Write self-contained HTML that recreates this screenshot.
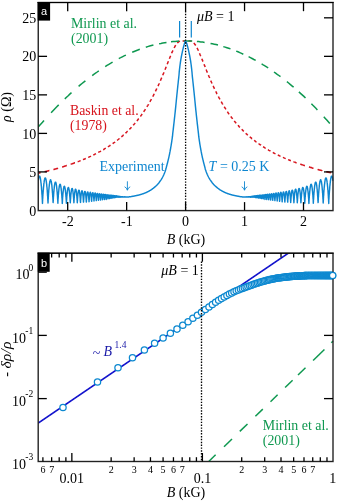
<!DOCTYPE html>
<html><head><meta charset="utf-8"><title>fig</title>
<style>html,body{margin:0;padding:0;background:#fff;}svg{display:block;will-change:transform;}text{font-family:"Liberation Serif",serif;}</style>
</head><body>
<svg width="338" height="503" viewBox="0 0 338 503">
<rect x="0" y="0" width="338" height="503" fill="#fff"/>
<defs><filter id="bl" x="0" y="0" width="338" height="503" filterUnits="userSpaceOnUse"><feGaussianBlur stdDeviation="0.33"/></filter><clipPath id="c1"><rect x="38.25" y="2.50" width="295.35" height="208.10"/></clipPath>
<clipPath id="c2"><rect x="38.20" y="253.20" width="299.80" height="208.30"/></clipPath></defs><g filter="url(#bl)">
<g clip-path="url(#c1)">
<path d="M38.2 173.2 38.8 173.1 39.4 173.0 40.0 172.8 40.6 172.7 40.6 172.7 M44.7 171.7 45.1 171.6 45.7 171.5 46.3 171.3 46.9 171.2 47.5 171.0 48.0 170.9 48.6 170.7 49.2 170.6 49.4 170.6 M53.4 169.5 53.9 169.4 54.5 169.2 55.1 169.0 55.7 168.9 56.3 168.7 56.9 168.5 57.5 168.4 58.1 168.2 58.1 168.2 M62.1 167.0 62.6 166.9 63.2 166.7 63.8 166.5 64.4 166.3 64.9 166.1 65.5 166.0 66.1 165.8 66.7 165.6 66.8 165.6 M70.7 164.2 71.2 164.1 71.8 163.9 72.4 163.7 73.0 163.5 73.6 163.3 74.2 163.0 74.8 162.8 75.0 162.8 M77.7 161.7 78.1 161.6 78.7 161.4 79.3 161.1 79.9 160.9 80.5 160.7 80.6 160.6 M83.0 159.7 83.4 159.5 84.0 159.2 84.6 159.0 85.2 158.7 85.8 158.5 85.8 158.5 M88.2 157.4 88.7 157.2 89.3 156.9 89.9 156.6 90.5 156.4 91.0 156.1 91.0 156.1 M93.3 155.0 93.8 154.8 94.4 154.5 95.0 154.2 95.6 153.9 96.0 153.7 96.0 153.7 M98.3 152.5 98.7 152.2 99.3 151.9 99.9 151.6 100.5 151.3 101.0 151.0 101.0 151.0 M103.2 149.7 103.7 149.5 104.2 149.1 104.8 148.7 105.4 148.4 105.8 148.2 M108.0 146.8 108.4 146.5 109.0 146.2 109.6 145.8 110.1 145.4 110.5 145.1 M112.6 143.7 113.1 143.3 113.7 142.9 114.3 142.5 114.9 142.1 115.0 141.9 M117.0 140.4 117.6 140.0 118.2 139.5 118.8 139.0 119.4 138.6 119.4 138.5 M121.3 136.9 121.7 136.6 122.3 136.1 122.9 135.6 123.5 135.0 123.6 135.0 M125.5 133.3 125.9 132.9 126.5 132.3 127.0 131.7 127.6 131.2 127.6 131.2 M129.4 129.4 130.0 128.8 130.6 128.2 131.2 127.6 131.5 127.2 M133.2 125.3 133.7 124.7 134.3 124.1 134.9 123.4 135.2 123.0 M136.9 121.0 137.5 120.3 138.0 119.5 138.6 118.8 138.8 118.6 M140.4 116.5 140.8 115.9 141.4 115.1 142.0 114.3 142.2 114.0 M143.7 111.8 144.1 111.1 144.7 110.3 145.3 109.4 145.4 109.2 M146.9 106.9 147.3 106.2 147.9 105.3 148.5 104.3 148.5 104.2 M149.9 101.8 150.4 100.9 151.0 99.9 151.5 99.1 151.5 99.1 M152.7 96.7 153.2 95.8 153.8 94.7 154.2 93.8 154.2 93.8 M155.4 91.4 155.9 90.4 156.5 89.2 156.8 88.5 M158.0 86.1 158.5 85.0 159.1 83.7 159.3 83.2 M160.4 80.7 160.8 79.7 161.4 78.3 161.7 77.7 M162.7 75.2 163.2 74.1 163.8 72.7 163.9 72.3 M165.0 69.8 165.4 68.8 166.0 67.3 166.2 66.8 M167.2 64.3 167.7 62.9 168.3 61.4 168.3 61.3 M169.4 58.8 169.9 57.5 170.5 56.1 170.6 55.8 M171.6 53.3 172.0 52.4 172.6 51.1 172.9 50.4 M174.1 48.0 174.6 47.1 175.2 46.0 175.7 45.2 175.7 45.2 M177.3 43.0 177.7 42.6 178.3 42.1 178.9 41.7 179.5 41.4 179.9 41.2 M182.6 40.9 183.0 40.9 183.6 40.9 184.2 40.9 184.8 40.9 185.4 40.9 185.8 40.9 M188.5 40.9 188.9 40.9 189.5 41.0 190.1 41.0 190.7 41.1 191.3 41.2 191.6 41.3 M193.8 42.9 194.2 43.4 194.8 44.2 195.4 45.0 195.7 45.5 M197.0 47.9 197.6 49.0 198.2 50.2 198.4 50.7 M199.5 53.2 199.9 54.2 200.5 55.6 200.8 56.2 M201.8 58.7 202.3 59.9 202.9 61.4 203.0 61.6 M204.0 64.2 204.5 65.4 205.1 66.8 205.2 67.1 M206.2 69.6 206.6 70.7 207.2 72.2 207.4 72.6 M208.4 75.1 209.0 76.5 209.6 77.8 209.7 78.1 M210.7 80.6 211.1 81.5 211.7 82.8 212.0 83.5 M213.2 85.9 213.7 87.1 214.3 88.4 214.5 88.8 M215.7 91.3 216.3 92.4 216.8 93.6 217.1 94.1 M218.4 96.5 218.8 97.3 219.4 98.4 219.9 99.4 219.9 99.4 M221.2 101.7 221.8 102.6 222.3 103.6 222.8 104.5 222.8 104.5 M224.2 106.8 224.7 107.5 225.3 108.4 225.9 109.4 225.9 109.4 M227.4 111.7 227.8 112.3 228.4 113.2 229.0 114.0 229.2 114.2 M230.7 116.4 231.2 117.0 231.8 117.8 232.4 118.5 232.6 118.8 M234.2 120.9 234.7 121.5 235.3 122.2 235.9 122.9 236.2 123.2 M237.9 125.2 238.5 125.8 239.0 126.5 239.6 127.1 239.9 127.4 M241.7 129.3 242.2 129.8 242.8 130.4 243.4 131.0 243.8 131.4 243.8 131.4 M245.7 133.2 246.1 133.6 246.7 134.1 247.3 134.7 247.8 135.2 247.8 135.2 M249.8 136.8 250.2 137.2 250.8 137.7 251.4 138.2 252.0 138.7 252.1 138.7 M254.1 140.3 254.6 140.7 255.2 141.2 255.8 141.6 256.3 142.1 256.4 142.1 M258.5 143.6 259.1 144.0 259.7 144.4 260.3 144.8 260.9 145.2 261.0 145.3 M263.1 146.7 263.6 147.0 264.2 147.4 264.8 147.8 265.4 148.1 265.7 148.3 M267.9 149.7 268.3 149.9 268.9 150.3 269.5 150.6 270.1 150.9 270.5 151.2 270.5 151.2 M272.8 152.4 273.2 152.6 273.8 153.0 274.4 153.3 275.0 153.6 275.5 153.8 275.5 153.8 M277.8 155.0 278.3 155.2 278.9 155.5 279.5 155.8 280.1 156.1 280.5 156.3 280.5 156.3 M282.9 157.4 283.5 157.6 284.0 157.9 284.6 158.1 285.2 158.4 285.7 158.6 285.7 158.6 M288.1 159.6 288.6 159.8 289.2 160.0 289.7 160.3 290.3 160.5 290.9 160.7 290.9 160.7 M293.4 161.7 293.9 161.9 294.5 162.1 295.1 162.3 295.6 162.5 296.2 162.8 296.6 162.9 296.6 162.9 M300.2 164.2 300.7 164.3 301.3 164.5 301.9 164.7 302.5 164.9 303.1 165.1 303.7 165.3 304.3 165.5 304.9 165.7 304.9 165.7 M308.9 167.0 309.4 167.1 310.0 167.3 310.6 167.5 311.2 167.6 311.8 167.8 312.3 168.0 312.9 168.2 313.5 168.3 313.5 168.3 M317.6 169.4 318.0 169.6 318.6 169.7 319.2 169.9 319.8 170.0 320.4 170.2 321.0 170.3 321.6 170.5 322.2 170.6 322.3 170.7 M326.3 171.7 326.9 171.8 327.5 172.0 328.1 172.1 328.7 172.2 329.2 172.4 329.8 172.5 330.4 172.6 331.0 172.8 331.1 172.8" fill="none" stroke="#d7141e" stroke-width="1.5"/>
<path d="M37.8 127.6 39.3 125.8 40.9 124.0 42.5 122.3 44.0 120.5 M51.1 112.7 53.0 110.7 54.9 108.7 56.8 106.8 58.7 104.9 M64.8 98.9 66.5 97.3 68.2 95.7 69.8 94.1 71.5 92.6 M78.6 86.4 80.3 84.9 82.0 83.5 83.7 82.2 85.4 80.8 M92.2 75.6 93.8 74.3 95.5 73.2 97.2 72.0 98.8 70.8 M105.2 66.6 107.0 65.4 108.9 64.3 110.8 63.2 112.6 62.1 M118.8 58.6 120.6 57.7 122.3 56.8 124.1 55.9 125.9 55.1 M132.2 52.3 134.1 51.5 136.0 50.7 137.9 50.0 139.8 49.3 M145.8 47.2 147.7 46.6 149.6 46.1 151.5 45.6 153.4 45.1 M159.1 43.7 160.9 43.4 162.8 43.0 164.7 42.7 166.5 42.4 M171.0 41.8 173.1 41.6 175.1 41.4 177.1 41.2 179.2 41.1 M183.8 41.0 185.9 40.9 188.0 41.0 190.1 41.0 192.2 41.1 M196.9 41.4 198.8 41.6 200.8 41.9 202.7 42.1 204.6 42.4 M210.5 43.4 212.4 43.8 214.2 44.2 216.1 44.6 218.0 45.1 M223.3 46.6 225.1 47.1 226.9 47.7 228.7 48.3 230.5 48.9 M236.2 51.1 238.0 51.8 239.8 52.6 241.5 53.4 243.3 54.2 M248.6 56.7 250.4 57.6 252.1 58.5 253.9 59.5 255.7 60.4 M261.6 63.9 263.2 64.9 264.9 65.9 266.6 66.9 268.2 68.0 M274.0 72.0 275.6 73.1 277.2 74.3 278.9 75.5 280.5 76.7 M286.9 81.7 288.6 83.0 290.2 84.4 291.9 85.8 293.6 87.2 M298.9 91.9 300.5 93.4 302.2 94.9 303.9 96.4 305.5 98.0 M311.4 103.7 312.9 105.3 314.4 106.8 315.9 108.3 317.4 109.9 M323.8 116.7 325.3 118.4 326.8 120.1 328.3 121.8 329.8 123.5" fill="none" stroke="#0f9850" stroke-width="1.5"/>
<path d="M38.2 180.8 38.3 180.4 38.3 180.0 38.4 179.6 38.5 179.2 38.5 178.9 38.6 178.6 38.6 178.3 38.7 178.0 38.8 177.7 38.8 177.5 38.9 177.2 38.9 177.0 39.0 176.8 39.1 176.7 39.1 176.5 39.2 176.4 39.2 176.3 39.3 176.2 39.3 176.2 39.4 176.1 39.5 176.1 39.5 176.1 39.6 176.1 39.6 176.2 39.7 176.2 39.8 176.3 39.8 176.4 39.9 176.6 39.9 176.7 40.0 176.9 40.1 177.1 40.1 177.3 40.2 177.5 40.2 177.8 40.3 178.0 40.3 178.3 40.4 178.6 40.5 179.0 40.5 179.3 40.6 179.7 40.6 180.1 40.7 180.5 40.8 180.9 40.8 181.4 40.9 181.9 40.9 182.4 41.0 182.9 41.1 183.4 41.1 184.0 41.2 184.5 41.2 185.1 41.3 185.7 41.4 186.4 41.4 187.0 41.5 187.7 41.5 188.3 41.6 189.1 41.6 189.8 41.7 190.5 41.8 191.3 41.8 192.1 41.9 192.9 41.9 193.7 42.0 194.6 42.1 195.5 42.1 196.4 42.2 197.3 42.2 198.3 42.3 199.4 42.4 200.5 42.4 201.8 42.5 203.4 42.5 201.9 42.6 200.6 42.6 199.5 42.7 198.4 42.8 197.4 42.8 196.5 42.9 195.6 42.9 194.7 43.0 193.8 43.1 193.0 43.1 192.2 43.2 191.4 43.2 190.7 43.3 190.0 43.4 189.3 43.4 188.6 43.5 187.9 43.5 187.3 43.6 186.6 43.7 186.0 43.7 185.5 43.8 184.9 43.8 184.4 43.9 183.8 43.9 183.3 44.0 182.9 44.1 182.4 44.1 182.0 44.2 181.6 44.2 181.2 44.3 180.8 44.4 180.4 44.4 180.1 44.5 179.8 44.5 179.5 44.6 179.3 44.7 179.0 44.7 178.8 44.8 178.6 44.8 178.4 44.9 178.3 44.9 178.2 45.0 178.1 45.1 178.0 45.1 177.9 45.2 177.9 45.2 177.9 45.3 177.9 45.4 177.9 45.4 178.0 45.5 178.1 45.5 178.2 45.6 178.3 45.7 178.5 45.7 178.6 45.8 178.8 45.8 179.0 45.9 179.3 46.0 179.6 46.0 179.8 46.1 180.1 46.1 180.5 46.2 180.8 46.2 181.2 46.3 181.6 46.4 182.0 46.4 182.5 46.5 182.9 46.5 183.4 46.6 183.9 46.7 184.4 46.7 185.0 46.8 185.6 46.8 186.1 46.9 186.8 47.0 187.4 47.0 188.0 47.1 188.7 47.1 189.4 47.2 190.1 47.3 190.9 47.3 191.6 47.4 192.4 47.4 193.2 47.5 194.0 47.5 194.9 47.6 195.8 47.7 196.7 47.7 197.6 47.8 198.6 47.8 199.7 47.9 200.9 48.0 202.1 48.0 203.0 48.1 201.5 48.1 200.3 48.2 199.2 48.3 198.2 48.3 197.2 48.4 196.3 48.4 195.4 48.5 194.5 48.5 193.7 48.6 192.9 48.7 192.1 48.7 191.4 48.8 190.7 48.8 190.0 48.9 189.3 49.0 188.7 49.0 188.0 49.1 187.4 49.1 186.8 49.2 186.3 49.3 185.7 49.3 185.2 49.4 184.7 49.4 184.2 49.5 183.8 49.6 183.4 49.6 183.0 49.7 182.6 49.7 182.2 49.8 181.9 49.8 181.6 49.9 181.3 50.0 181.1 50.0 180.8 50.1 180.6 50.1 180.4 50.2 180.3 50.3 180.1 50.3 180.0 50.4 179.9 50.4 179.9 50.5 179.8 50.6 179.8 50.6 179.8 50.7 179.9 50.7 179.9 50.8 180.0 50.8 180.1 50.9 180.3 51.0 180.4 51.0 180.6 51.1 180.8 51.1 181.1 51.2 181.3 51.3 181.6 51.3 181.9 51.4 182.2 51.4 182.6 51.5 183.0 51.6 183.4 51.6 183.8 51.7 184.2 51.7 184.7 51.8 185.2 51.9 185.7 51.9 186.3 52.0 186.8 52.0 187.4 52.1 188.0 52.1 188.6 52.2 189.3 52.3 190.0 52.3 190.6 52.4 191.4 52.4 192.1 52.5 192.9 52.6 193.7 52.6 194.5 52.7 195.3 52.7 196.2 52.8 197.1 52.9 198.0 52.9 199.0 53.0 200.1 53.0 201.2 53.1 202.5 53.1 202.6 53.2 201.2 53.3 200.1 53.3 199.1 53.4 198.1 53.4 197.2 53.5 196.3 53.6 195.4 53.6 194.6 53.7 193.8 53.7 193.1 53.8 192.3 53.9 191.6 53.9 191.0 54.0 190.3 54.0 189.7 54.1 189.1 54.2 188.5 54.2 188.0 54.3 187.4 54.3 186.9 54.4 186.4 54.4 186.0 54.5 185.5 54.6 185.1 54.6 184.8 54.7 184.4 54.7 184.1 54.8 183.8 54.9 183.5 54.9 183.2 55.0 183.0 55.0 182.8 55.1 182.6 55.2 182.4 55.2 182.3 55.3 182.2 55.3 182.1 55.4 182.1 55.4 182.1 55.5 182.1 55.6 182.1 55.6 182.1 55.7 182.2 55.7 182.3 55.8 182.5 55.9 182.6 55.9 182.8 56.0 183.0 56.0 183.2 56.1 183.5 56.2 183.8 56.2 184.1 56.3 184.4 56.3 184.8 56.4 185.2 56.5 185.6 56.5 186.0 56.6 186.5 56.6 186.9 56.7 187.4 56.7 188.0 56.8 188.5 56.9 189.1 56.9 189.7 57.0 190.3 57.0 190.9 57.1 191.6 57.2 192.3 57.2 193.0 57.3 193.7 57.3 194.5 57.4 195.2 57.5 196.1 57.5 196.9 57.6 197.8 57.6 198.7 57.7 199.6 57.8 200.7 57.8 201.8 57.9 203.3 57.9 201.9 58.0 200.8 58.0 199.8 58.1 198.8 58.2 197.9 58.2 197.1 58.3 196.2 58.3 195.5 58.4 194.7 58.5 194.0 58.5 193.3 58.6 192.6 58.6 192.0 58.7 191.4 58.8 190.8 58.8 190.2 58.9 189.7 58.9 189.2 59.0 188.7 59.0 188.2 59.1 187.8 59.2 187.4 59.2 187.0 59.3 186.6 59.3 186.3 59.4 186.0 59.5 185.7 59.5 185.4 59.6 185.2 59.6 185.0 59.7 184.8 59.8 184.7 59.8 184.5 59.9 184.4 59.9 184.4 60.0 184.3 60.1 184.3 60.1 184.3 60.2 184.4 60.2 184.4 60.3 184.5 60.3 184.6 60.4 184.8 60.5 185.0 60.5 185.1 60.6 185.4 60.6 185.6 60.7 185.9 60.8 186.2 60.8 186.5 60.9 186.9 60.9 187.2 61.0 187.6 61.1 188.1 61.1 188.5 61.2 189.0 61.2 189.5 61.3 190.0 61.3 190.5 61.4 191.1 61.5 191.7 61.5 192.3 61.6 192.9 61.6 193.6 61.7 194.3 61.8 195.0 61.8 195.7 61.9 196.5 61.9 197.3 62.0 198.1 62.1 199.0 62.1 199.9 62.2 200.8 62.2 201.9 62.3 203.4 62.4 201.9 62.4 200.9 62.5 199.9 62.5 199.0 62.6 198.2 62.6 197.4 62.7 196.6 62.8 195.9 62.8 195.2 62.9 194.5 62.9 193.9 63.0 193.3 63.1 192.7 63.1 192.1 63.2 191.6 63.2 191.1 63.3 190.6 63.4 190.1 63.4 189.7 63.5 189.3 63.5 188.9 63.6 188.5 63.6 188.2 63.7 187.9 63.8 187.6 63.8 187.4 63.9 187.1 63.9 187.0 64.0 186.8 64.1 186.6 64.1 186.5 64.2 186.4 64.2 186.4 64.3 186.3 64.4 186.3 64.4 186.3 64.5 186.4 64.5 186.5 64.6 186.6 64.7 186.7 64.7 186.8 64.8 187.0 64.8 187.2 64.9 187.5 64.9 187.7 65.0 188.0 65.1 188.3 65.1 188.7 65.2 189.0 65.2 189.4 65.3 189.8 65.4 190.3 65.4 190.8 65.5 191.2 65.5 191.8 65.6 192.3 65.7 192.9 65.7 193.5 65.8 194.1 65.8 194.7 65.9 195.4 65.9 196.1 66.0 196.8 66.1 197.5 66.1 198.3 66.2 199.1 66.2 200.0 66.3 201.0 66.4 202.0 66.4 203.2 66.5 201.9 66.5 200.9 66.6 199.9 66.7 199.1 66.7 198.3 66.8 197.5 66.8 196.7 66.9 196.0 67.0 195.4 67.0 194.7 67.1 194.1 67.1 193.5 67.2 193.0 67.2 192.4 67.3 191.9 67.4 191.4 67.4 191.0 67.5 190.6 67.5 190.2 67.6 189.8 67.7 189.4 67.7 189.1 67.8 188.8 67.8 188.6 67.9 188.3 68.0 188.1 68.0 187.9 68.1 187.8 68.1 187.7 68.2 187.6 68.3 187.5 68.3 187.5 68.4 187.5 68.4 187.5 68.5 187.5 68.5 187.6 68.6 187.7 68.7 187.9 68.7 188.1 68.8 188.3 68.8 188.5 68.9 188.7 69.0 189.0 69.0 189.3 69.1 189.7 69.1 190.0 69.2 190.4 69.3 190.9 69.3 191.3 69.4 191.8 69.4 192.3 69.5 192.8 69.5 193.4 69.6 193.9 69.7 194.6 69.7 195.2 69.8 195.9 69.8 196.5 69.9 197.3 70.0 198.0 70.0 198.8 70.1 199.6 70.1 200.5 70.2 201.5 70.3 202.7 70.3 202.3 70.4 201.2 70.4 200.3 70.5 199.4 70.6 198.6 70.6 197.8 70.7 197.1 70.7 196.4 70.8 195.7 70.8 195.1 70.9 194.5 71.0 193.9 71.0 193.4 71.1 192.8 71.1 192.4 71.2 191.9 71.3 191.5 71.3 191.0 71.4 190.7 71.4 190.3 71.5 190.0 71.6 189.7 71.6 189.4 71.7 189.2 71.7 189.0 71.8 188.8 71.8 188.7 71.9 188.6 72.0 188.5 72.0 188.5 72.1 188.4 72.1 188.5 72.2 188.5 72.3 188.6 72.3 188.7 72.4 188.8 72.4 189.0 72.5 189.2 72.6 189.4 72.6 189.7 72.7 190.0 72.7 190.3 72.8 190.6 72.9 191.0 72.9 191.4 73.0 191.9 73.0 192.3 73.1 192.8 73.1 193.3 73.2 193.9 73.3 194.5 73.3 195.1 73.4 195.7 73.4 196.4 73.5 197.1 73.6 197.8 73.6 198.6 73.7 199.4 73.7 200.2 73.8 201.2 73.9 202.2 73.9 202.7 74.0 201.5 74.0 200.5 74.1 199.7 74.1 198.8 74.2 198.1 74.3 197.3 74.3 196.6 74.4 196.0 74.4 195.4 74.5 194.8 74.6 194.2 74.6 193.6 74.7 193.1 74.7 192.7 74.8 192.2 74.9 191.8 74.9 191.4 75.0 191.0 75.0 190.7 75.1 190.4 75.2 190.2 75.2 189.9 75.3 189.7 75.3 189.6 75.4 189.4 75.4 189.3 75.5 189.3 75.6 189.2 75.6 189.2 75.7 189.3 75.7 189.3 75.8 189.4 75.9 189.6 75.9 189.7 76.0 189.9 76.0 190.2 76.1 190.4 76.2 190.7 76.2 191.1 76.3 191.4 76.3 191.8 76.4 192.2 76.5 192.7 76.5 193.2 76.6 193.7 76.6 194.2 76.7 194.8 76.7 195.4 76.8 196.0 76.9 196.7 76.9 197.4 77.0 198.1 77.0 198.9 77.1 199.7 77.2 200.6 77.2 201.6 77.3 202.7 77.3 202.1 77.4 201.1 77.5 200.2 77.5 199.3 77.6 198.5 77.6 197.8 77.7 197.1 77.7 196.4 77.8 195.8 77.9 195.2 77.9 194.6 78.0 194.1 78.0 193.6 78.1 193.1 78.2 192.7 78.2 192.3 78.3 191.9 78.3 191.6 78.4 191.3 78.5 191.0 78.5 190.8 78.6 190.6 78.6 190.4 78.7 190.3 78.8 190.2 78.8 190.1 78.9 190.1 78.9 190.1 79.0 190.1 79.0 190.2 79.1 190.3 79.2 190.5 79.2 190.6 79.3 190.9 79.3 191.1 79.4 191.4 79.5 191.7 79.5 192.1 79.6 192.4 79.6 192.9 79.7 193.3 79.8 193.8 79.8 194.3 79.9 194.8 79.9 195.4 80.0 196.0 80.0 196.6 80.1 197.3 80.2 198.0 80.2 198.8 80.3 199.6 80.3 200.4 80.4 201.3 80.5 202.4 80.5 202.3 80.6 201.2 80.6 200.3 80.7 199.5 80.8 198.7 80.8 197.9 80.9 197.3 80.9 196.6 81.0 196.0 81.1 195.4 81.1 194.9 81.2 194.3 81.2 193.9 81.3 193.4 81.3 193.0 81.4 192.6 81.5 192.3 81.5 192.0 81.6 191.7 81.6 191.5 81.7 191.3 81.8 191.1 81.8 191.0 81.9 190.9 81.9 190.8 82.0 190.8 82.1 190.8 82.1 190.9 82.2 191.0 82.2 191.1 82.3 191.3 82.3 191.5 82.4 191.7 82.5 192.0 82.5 192.3 82.6 192.6 82.6 193.0 82.7 193.4 82.8 193.9 82.8 194.3 82.9 194.8 82.9 195.4 83.0 196.0 83.1 196.6 83.1 197.2 83.2 197.9 83.2 198.6 83.3 199.4 83.4 200.2 83.4 201.1 83.5 202.1 83.5 202.1 83.6 201.1 83.6 200.2 83.7 199.4 83.8 198.6 83.8 197.9 83.9 197.2 83.9 196.6 84.0 196.0 84.1 195.4 84.1 194.9 84.2 194.4 84.2 194.0 84.3 193.5 84.4 193.2 84.4 192.8 84.5 192.5 84.5 192.2 84.6 192.0 84.6 191.8 84.7 191.6 84.8 191.5 84.8 191.4 84.9 191.4 84.9 191.4 85.0 191.4 85.1 191.5 85.1 191.6 85.2 191.7 85.2 191.9 85.3 192.1 85.4 192.4 85.4 192.7 85.5 193.0 85.5 193.4 85.6 193.8 85.7 194.2 85.7 194.7 85.8 195.2 85.8 195.7 85.9 196.3 85.9 196.9 86.0 197.6 86.1 198.3 86.1 199.0 86.2 199.8 86.2 200.6 86.3 201.6 86.4 202.1 86.4 201.0 86.5 200.1 86.5 199.3 86.6 198.6 86.7 197.9 86.7 197.2 86.8 196.6 86.8 196.0 86.9 195.5 87.0 195.0 87.0 194.5 87.1 194.1 87.1 193.7 87.2 193.3 87.2 193.0 87.3 192.7 87.4 192.5 87.4 192.3 87.5 192.1 87.5 192.0 87.6 191.9 87.7 191.9 87.7 191.9 87.8 191.9 87.8 192.0 87.9 192.1 88.0 192.2 88.0 192.4 88.1 192.7 88.1 192.9 88.2 193.3 88.2 193.6 88.3 194.0 88.4 194.4 88.4 194.9 88.5 195.4 88.5 195.9 88.6 196.4 88.7 197.0 88.7 197.7 88.8 198.4 88.8 199.1 88.9 199.9 89.0 200.7 89.0 201.7 89.1 201.4 89.1 200.4 89.2 199.6 89.3 198.8 89.3 198.1 89.4 197.5 89.4 196.9 89.5 196.3 89.5 195.7 89.6 195.2 89.7 194.8 89.7 194.3 89.8 194.0 89.8 193.6 89.9 193.3 90.0 193.0 90.0 192.8 90.1 192.6 90.1 192.5 90.2 192.4 90.3 192.3 90.3 192.3 90.4 192.3 90.4 192.4 90.5 192.5 90.5 192.6 90.6 192.8 90.7 193.0 90.7 193.3 90.8 193.6 90.8 193.9 90.9 194.3 91.0 194.7 91.0 195.2 91.1 195.7 91.1 196.2 91.2 196.8 91.3 197.4 91.3 198.0 91.4 198.7 91.4 199.5 91.5 200.3 91.6 201.2 91.6 201.3 91.7 200.4 91.7 199.5 91.8 198.8 91.8 198.1 91.9 197.4 92.0 196.8 92.0 196.3 92.1 195.8 92.1 195.3 92.2 194.8 92.3 194.4 92.3 194.1 92.4 193.7 92.4 193.5 92.5 193.2 92.6 193.0 92.6 192.9 92.7 192.8 92.7 192.7 92.8 192.7 92.8 192.7 92.9 192.7 93.0 192.8 93.0 193.0 93.1 193.2 93.1 193.4 93.2 193.7 93.3 194.0 93.3 194.3 93.4 194.7 93.4 195.1 93.5 195.6 93.6 196.1 93.6 196.6 93.7 197.2 93.7 197.8 93.8 198.5 93.9 199.2 93.9 200.0 94.0 200.9 94.0 201.0 94.1 200.1 94.1 199.3 94.2 198.5 94.3 197.9 94.3 197.3 94.4 196.7 94.4 196.2 94.5 195.7 94.6 195.2 94.6 194.8 94.7 194.4 94.7 194.1 94.8 193.8 94.9 193.6 94.9 193.4 95.0 193.2 95.0 193.1 95.1 193.1 95.1 193.0 95.2 193.0 95.3 193.1 95.3 193.2 95.4 193.4 95.4 193.6 95.5 193.8 95.6 194.1 95.6 194.4 95.7 194.7 95.7 195.1 95.8 195.6 95.9 196.0 95.9 196.6 96.0 197.1 96.0 197.7 96.1 198.3 96.2 199.0 96.2 199.8 96.3 200.6 96.3 200.6 96.4 199.7 96.4 199.0 96.5 198.3 96.6 197.6 96.6 197.1 96.7 196.5 96.7 196.0 96.8 195.6 96.9 195.2 96.9 194.8 97.0 194.5 97.0 194.2 97.1 193.9 97.2 193.7 97.2 193.6 97.3 193.5 97.3 193.4 97.4 193.4 97.5 193.4 97.5 193.5 97.6 193.6 97.6 193.7 97.7 193.9 97.7 194.2 97.8 194.4 97.9 194.8 97.9 195.1 98.0 195.5 98.0 196.0 98.1 196.4 98.2 196.9 98.2 197.5 98.3 198.1 98.3 198.7 98.4 199.4 98.5 200.3 98.5 200.2 98.6 199.4 98.6 198.7 98.7 198.0 98.7 197.5 98.8 196.9 98.9 196.4 98.9 196.0 99.0 195.5 99.0 195.2 99.1 194.8 99.2 194.5 99.2 194.3 99.3 194.1 99.3 193.9 99.4 193.8 99.5 193.7 99.5 193.7 99.6 193.7 99.6 193.8 99.7 193.9 99.8 194.0 99.8 194.2 99.9 194.5 99.9 194.7 100.0 195.0 100.0 195.4 100.1 195.8 100.2 196.2 100.2 196.7 100.3 197.2 100.3 197.7 100.4 198.3 100.5 198.9 100.5 199.7 100.6 200.1 100.6 199.3 100.7 198.6 100.8 198.0 100.8 197.4 100.9 196.9 100.9 196.4 101.0 196.0 101.0 195.6 101.1 195.3 101.2 194.9 101.2 194.7 101.3 194.5 101.3 194.3 101.4 194.1 101.5 194.1 101.5 194.0 101.6 194.0 101.6 194.0 101.7 194.1 101.8 194.3 101.8 194.4 101.9 194.6 101.9 194.9 102.0 195.2 102.1 195.5 102.1 195.9 102.2 196.3 102.2 196.7 102.3 197.2 102.3 197.7 102.4 198.3 102.5 199.0 102.5 199.7 102.6 199.5 102.6 198.8 102.7 198.1 102.8 197.6 102.8 197.1 102.9 196.6 102.9 196.2 103.0 195.8 103.1 195.5 103.1 195.1 103.2 194.9 103.2 194.7 103.3 194.5 103.3 194.4 103.4 194.3 103.5 194.2 103.5 194.2 103.6 194.3 103.6 194.4 103.7 194.5 103.8 194.7 103.8 194.9 103.9 195.2 103.9 195.5 104.0 195.8 104.1 196.2 104.1 196.6 104.2 197.0 104.2 197.5 104.3 198.1 104.4 198.7 104.4 199.4 104.5 199.3 104.5 198.6 104.6 198.0 104.6 197.5 104.7 197.0 104.8 196.5 104.8 196.1 104.9 195.8 104.9 195.5 105.0 195.2 105.1 195.0 105.1 194.8 105.2 194.6 105.2 194.5 105.3 194.5 105.4 194.5 105.4 194.5 105.5 194.6 105.5 194.7 105.6 194.8 105.6 195.0 105.7 195.3 105.8 195.6 105.8 195.9 105.9 196.2 105.9 196.6 106.0 197.1 106.1 197.5 106.1 198.1 106.2 198.6 106.2 199.4 106.3 198.8 106.4 198.2 106.4 197.6 106.5 197.1 106.5 196.7 106.6 196.3 106.7 196.0 106.7 195.7 106.8 195.4 106.8 195.2 106.9 195.0 106.9 194.8 107.0 194.7 107.1 194.7 107.1 194.7 107.2 194.7 107.2 194.8 107.3 194.9 107.4 195.0 107.4 195.2 107.5 195.5 107.5 195.8 107.6 196.1 107.7 196.4 107.7 196.8 107.8 197.2 107.8 197.7 107.9 198.2 108.0 198.8 108.0 198.7 108.1 198.1 108.1 197.6 108.2 197.2 108.2 196.7 108.3 196.4 108.4 196.0 108.4 195.7 108.5 195.5 108.5 195.3 108.6 195.1 108.7 195.0 108.7 194.9 108.8 194.9 108.8 194.9 108.9 194.9 109.0 195.0 109.0 195.1 109.1 195.3 109.1 195.5 109.2 195.7 109.2 196.0 109.3 196.3 109.4 196.7 109.4 197.1 109.5 197.5 109.5 198.0 109.6 198.5 109.7 198.5 109.7 197.9 109.8 197.5 109.8 197.0 109.9 196.7 110.0 196.3 110.0 196.0 110.1 195.8 110.1 195.5 110.2 195.4 110.3 195.2 110.3 195.1 110.4 195.1 110.4 195.1 110.5 195.1 110.5 195.1 110.6 195.2 110.7 195.4 110.7 195.6 110.8 195.8 110.8 196.0 110.9 196.3 111.0 196.6 111.0 197.0 111.1 197.3 111.1 197.8 111.2 198.3 111.3 198.1 111.3 197.6 111.4 197.2 111.4 196.8 111.5 196.5 111.5 196.2 111.6 196.0 111.7 195.7 111.7 195.6 111.8 195.4 111.8 195.3 111.9 195.3 112.0 195.2 112.0 195.2 112.1 195.3 112.1 195.4 112.2 195.5 112.3 195.6 112.3 195.8 112.4 196.0 112.4 196.3 112.5 196.6 112.6 196.9 112.6 197.2 112.7 197.6 112.7 198.0 112.8 197.7 112.8 197.3 112.9 196.9 113.0 196.6 113.0 196.4 113.1 196.1 113.1 195.9 113.2 195.7 113.3 195.6 113.3 195.5 113.4 195.4 113.4 195.4 113.5 195.4 113.6 195.4 113.6 195.5 113.7 195.6 113.7 195.7 113.8 195.9 113.8 196.1 113.9 196.3 114.0 196.5 114.0 196.8 114.1 197.1 114.1 197.4 114.2 197.8 114.3 197.4 114.3 197.0 114.4 196.7 114.4 196.5 114.5 196.3 114.6 196.1 114.6 195.9 114.7 195.8 114.7 195.7 114.8 195.6 114.9 195.6 114.9 195.6 115.0 195.6 115.0 195.7 115.1 195.7 115.1 195.9 115.2 196.0 115.3 196.2 115.3 196.3 115.4 196.5 115.4 196.8 115.5 197.0 115.6 197.3 115.6 197.5 115.7 197.2 115.7 196.9 115.8 196.6 115.9 196.4 115.9 196.3 116.0 196.1 116.0 196.0 116.1 195.9 116.1 195.8 116.2 195.8 116.3 195.8 116.3 195.8 116.4 195.8 116.4 195.9 116.5 196.0 116.6 196.1 116.6 196.3 116.7 196.4 116.7 196.6 116.8 196.8 116.9 197.0 116.9 197.3 117.0 197.3 117.0 197.1 117.1 196.8 117.2 196.7 117.2 196.5 117.3 196.4 117.3 196.2 117.4 196.2 117.4 196.1 117.5 196.1 117.6 196.0 117.6 196.0 117.7 196.1 117.7 196.1 117.8 196.2 117.9 196.3 117.9 196.4 118.0 196.5 118.0 196.7 118.1 196.8 118.2 197.0 118.2 197.2 118.3 197.2 118.3 197.0 118.4 196.9 118.5 196.7 118.5 196.6 118.6 196.5 118.6 196.4 118.7 196.4 118.7 196.3 118.8 196.3 118.9 196.3 118.9 196.3 119.0 196.3 119.0 196.4 119.1 196.4 119.2 196.5 119.2 196.6 119.3 196.7 119.3 196.8 119.4 197.0 119.5 197.1 119.5 197.2 119.6 197.0 119.6 196.9 119.7 196.8 119.7 196.7 119.8 196.6 119.9 196.6 119.9 196.5 120.0 196.5 120.0 196.5 120.1 196.5 120.2 196.5 120.2 196.5 120.3 196.6 120.3 196.6 120.4 196.7 120.5 196.8 120.5 196.8 120.6 196.9 120.6 197.0 120.7 197.2 120.8 197.1 120.8 197.0 120.9 196.9 120.9 196.8 121.0 196.8 121.0 196.7 121.1 196.7 121.2 196.7 121.2 196.6 121.3 196.6 121.3 196.6 121.4 196.7 121.5 196.7 121.5 196.7 121.6 196.8 121.6 196.8 121.7 196.9 121.8 197.0 121.8 197.1 121.9 197.1 121.9 197.0 122.0 197.0 122.0 196.9 122.1 196.9 122.2 196.8 122.2 196.8 122.3 196.8 122.3 196.8 122.4 196.8 122.5 196.8 122.5 196.8 122.6 196.8 122.6 196.8 122.7 196.9 122.8 196.9 122.8 196.9 122.9 197.0 122.9 197.0 123.0 197.1 123.1 197.0 123.1 197.0 123.2 196.9 123.2 196.9 123.3 196.9 123.3 196.9 123.4 196.9 123.5 196.9 123.5 196.9 123.6 196.9 123.6 196.9 123.7 196.9 123.8 196.9 123.8 196.9 123.9 197.0 123.9 197.0 124.0 197.0 124.1 197.1 124.1 197.0 124.2 197.0 124.2 197.0 124.3 197.0 124.3 197.0 124.4 196.9 124.5 196.9 124.5 196.9 124.6 196.9 124.6 196.9 124.7 197.0 124.8 197.0 124.8 197.0 124.9 197.0 124.9 197.0 125.0 197.0 125.1 197.0 125.1 197.1 125.2 197.0 125.2 197.0 125.3 197.0 125.4 197.0 125.4 197.0 125.5 197.0 125.5 197.0 125.6 197.0 125.6 197.0 125.7 197.0 125.8 197.0 125.8 197.0 125.9 197.0 125.9 197.0 126.0 197.0 126.1 197.0 126.1 197.0 126.2 197.0 126.2 197.0 126.3 197.0 126.4 197.0 126.4 197.0 126.5 197.0 126.5 197.0 126.6 197.0 126.6 197.0 126.9 197.0 127.2 197.0 127.5 197.0 127.8 197.0 128.1 197.0 128.4 196.9 128.7 196.9 129.0 196.9 129.3 196.8 129.6 196.8 129.9 196.8 130.2 196.7 130.5 196.7 130.8 196.6 131.1 196.6 131.4 196.5 131.7 196.5 132.0 196.4 132.3 196.4 132.6 196.3 132.9 196.3 133.2 196.2 133.4 196.2 133.7 196.1 134.0 196.0 134.3 196.0 134.6 195.9 134.9 195.9 135.2 195.8 135.5 195.7 135.8 195.7 136.1 195.6 136.4 195.5 136.7 195.5 137.0 195.4 137.3 195.4 137.6 195.3 137.9 195.2 138.2 195.2 138.5 195.1 138.8 195.0 139.1 194.9 139.4 194.9 139.7 194.8 139.9 194.7 140.2 194.6 140.5 194.5 140.8 194.5 141.1 194.4 141.4 194.3 141.7 194.2 142.0 194.1 142.3 194.0 142.6 193.9 142.9 193.8 143.2 193.7 143.5 193.6 143.8 193.5 144.1 193.4 144.4 193.2 144.7 193.1 145.0 193.0 145.3 192.9 145.6 192.8 145.9 192.7 146.2 192.5 146.4 192.4 146.7 192.3 147.0 192.1 147.3 192.0 147.6 191.8 147.9 191.7 148.2 191.5 148.5 191.4 148.8 191.2 149.1 191.1 149.4 190.9 149.7 190.7 150.0 190.5 150.3 190.3 150.6 190.2 150.9 190.0 151.2 189.8 151.5 189.6 151.8 189.4 152.1 189.2 152.4 188.9 152.7 188.7 152.9 188.5 153.2 188.3 153.5 188.1 153.8 187.8 154.1 187.6 154.4 187.4 154.7 187.1 155.0 186.9 155.3 186.6 155.6 186.3 155.9 186.1 156.2 185.8 156.5 185.5 156.8 185.2 157.1 184.9 157.4 184.6 157.7 184.3 158.0 183.9 158.3 183.6 158.6 183.2 158.9 182.9 159.2 182.5 159.4 182.1 159.7 181.8 160.0 181.3 160.3 180.9 160.6 180.5 160.9 180.0 161.2 179.6 161.5 179.1 161.8 178.6 162.1 178.1 162.4 177.5 162.7 177.0 163.0 176.4 163.3 175.8 163.6 175.1 163.9 174.5 164.2 173.8 164.5 173.1 164.8 172.3 165.1 171.5 165.4 170.6 165.7 169.7 165.9 168.7 166.2 167.7 166.5 166.6 166.8 165.5 167.1 164.4 167.4 163.2 167.7 162.1 168.0 160.8 168.3 159.6 168.6 158.4 168.9 157.1 169.2 155.7 169.5 154.3 169.8 152.7 170.1 151.2 170.4 149.5 170.7 147.8 171.0 146.1 171.3 144.3 171.6 142.4 171.9 140.4 172.2 138.3 172.5 136.2 172.7 133.9 173.0 131.4 173.3 128.8 173.6 126.2 173.9 123.6 174.2 120.9 174.5 118.2 174.8 115.5 175.1 112.7 175.4 109.9 175.7 106.9 176.0 103.9 176.3 100.8 176.6 97.8 176.9 94.8 177.2 91.9 177.5 89.0 177.8 86.1 178.1 83.3 178.4 80.5 178.7 77.8 179.0 75.0 179.2 72.3 179.5 69.5 179.8 66.9 180.1 64.5 180.4 62.3 180.7 60.4 181.0 58.6 181.3 57.0 181.6 55.4 181.9 54.0 182.2 52.6 182.5 51.2 182.8 49.9 183.1 48.6 183.4 47.4 183.7 46.2 184.0 45.1 184.3 44.1 184.6 43.2 184.9 42.5 185.2 41.8 185.5 41.2 185.7 41.2 186.0 41.8 186.3 42.5 186.6 43.2 186.9 44.1 187.2 45.1 187.5 46.2 187.8 47.4 188.1 48.6 188.4 49.9 188.7 51.2 189.0 52.6 189.3 54.0 189.6 55.4 189.9 57.0 190.2 58.6 190.5 60.4 190.8 62.3 191.1 64.5 191.4 66.9 191.7 69.5 192.0 72.3 192.2 75.0 192.5 77.8 192.8 80.5 193.1 83.3 193.4 86.1 193.7 89.0 194.0 91.9 194.3 94.8 194.6 97.8 194.9 100.8 195.2 103.9 195.5 106.9 195.8 109.9 196.1 112.7 196.4 115.5 196.7 118.2 197.0 120.9 197.3 123.6 197.6 126.2 197.9 128.8 198.2 131.4 198.5 133.9 198.7 136.2 199.0 138.3 199.3 140.4 199.6 142.4 199.9 144.3 200.2 146.1 200.5 147.8 200.8 149.5 201.1 151.2 201.4 152.7 201.7 154.3 202.0 155.7 202.3 157.1 202.6 158.4 202.9 159.6 203.2 160.8 203.5 162.1 203.8 163.2 204.1 164.4 204.4 165.5 204.7 166.6 205.0 167.7 205.2 168.7 205.5 169.7 205.8 170.6 206.1 171.5 206.4 172.3 206.7 173.1 207.0 173.8 207.3 174.5 207.6 175.1 207.9 175.8 208.2 176.4 208.5 177.0 208.8 177.5 209.1 178.1 209.4 178.6 209.7 179.1 210.0 179.6 210.3 180.0 210.6 180.5 210.9 180.9 211.2 181.3 211.5 181.8 211.8 182.1 212.0 182.5 212.3 182.9 212.6 183.2 212.9 183.6 213.2 183.9 213.5 184.3 213.8 184.6 214.1 184.9 214.4 185.2 214.7 185.5 215.0 185.8 215.3 186.1 215.6 186.3 215.9 186.6 216.2 186.9 216.5 187.1 216.8 187.4 217.1 187.6 217.4 187.8 217.7 188.1 218.0 188.3 218.3 188.5 218.5 188.7 218.8 188.9 219.1 189.2 219.4 189.4 219.7 189.6 220.0 189.8 220.3 190.0 220.6 190.2 220.9 190.3 221.2 190.5 221.5 190.7 221.8 190.9 222.1 191.1 222.4 191.2 222.7 191.4 223.0 191.5 223.3 191.7 223.6 191.8 223.9 192.0 224.2 192.1 224.5 192.3 224.8 192.4 225.0 192.5 225.3 192.7 225.6 192.8 225.9 192.9 226.2 193.0 226.5 193.1 226.8 193.2 227.1 193.4 227.4 193.5 227.7 193.6 228.0 193.7 228.3 193.8 228.6 193.9 228.9 194.0 229.2 194.1 229.5 194.2 229.8 194.3 230.1 194.4 230.4 194.5 230.7 194.5 231.0 194.6 231.3 194.7 231.5 194.8 231.8 194.9 232.1 194.9 232.4 195.0 232.7 195.1 233.0 195.2 233.3 195.2 233.6 195.3 233.9 195.4 234.2 195.4 234.5 195.5 234.8 195.5 235.1 195.6 235.4 195.7 235.7 195.7 236.0 195.8 236.3 195.9 236.6 195.9 236.9 196.0 237.2 196.0 237.5 196.1 237.8 196.2 238.0 196.2 238.3 196.3 238.6 196.3 238.9 196.4 239.2 196.4 239.5 196.5 239.8 196.5 240.1 196.6 240.4 196.6 240.7 196.7 241.0 196.7 241.3 196.8 241.6 196.8 241.9 196.8 242.2 196.9 242.5 196.9 242.8 196.9 243.1 197.0 243.4 197.0 243.7 197.0 244.0 197.0 244.3 197.0 244.6 197.0 244.6 197.0 244.7 197.0 244.7 197.0 244.8 197.0 244.8 197.0 244.9 197.0 245.0 197.0 245.0 197.0 245.1 197.0 245.1 197.0 245.2 197.0 245.3 197.0 245.3 197.0 245.4 197.0 245.4 197.0 245.5 197.0 245.6 197.0 245.6 197.0 245.7 197.0 245.7 197.0 245.8 197.0 245.8 197.0 245.9 197.0 246.0 197.0 246.0 197.0 246.1 197.1 246.1 197.0 246.2 197.0 246.3 197.0 246.3 197.0 246.4 197.0 246.4 197.0 246.5 197.0 246.6 196.9 246.6 196.9 246.7 196.9 246.7 196.9 246.8 196.9 246.9 197.0 246.9 197.0 247.0 197.0 247.0 197.0 247.1 197.0 247.1 197.1 247.2 197.0 247.3 197.0 247.3 197.0 247.4 196.9 247.4 196.9 247.5 196.9 247.6 196.9 247.6 196.9 247.7 196.9 247.7 196.9 247.8 196.9 247.9 196.9 247.9 196.9 248.0 196.9 248.0 196.9 248.1 197.0 248.1 197.0 248.2 197.1 248.3 197.0 248.3 197.0 248.4 196.9 248.4 196.9 248.5 196.9 248.6 196.8 248.6 196.8 248.7 196.8 248.7 196.8 248.8 196.8 248.9 196.8 248.9 196.8 249.0 196.8 249.0 196.8 249.1 196.9 249.2 196.9 249.2 197.0 249.3 197.0 249.3 197.1 249.4 197.1 249.4 197.0 249.5 196.9 249.6 196.8 249.6 196.8 249.7 196.7 249.7 196.7 249.8 196.7 249.9 196.6 249.9 196.6 250.0 196.6 250.0 196.7 250.1 196.7 250.2 196.7 250.2 196.8 250.3 196.8 250.3 196.9 250.4 197.0 250.4 197.1 250.5 197.2 250.6 197.0 250.6 196.9 250.7 196.8 250.7 196.8 250.8 196.7 250.9 196.6 250.9 196.6 251.0 196.5 251.0 196.5 251.1 196.5 251.2 196.5 251.2 196.5 251.3 196.5 251.3 196.6 251.4 196.6 251.5 196.7 251.5 196.8 251.6 196.9 251.6 197.0 251.7 197.2 251.7 197.1 251.8 197.0 251.9 196.8 251.9 196.7 252.0 196.6 252.0 196.5 252.1 196.4 252.2 196.4 252.2 196.3 252.3 196.3 252.3 196.3 252.4 196.3 252.5 196.3 252.5 196.4 252.6 196.4 252.6 196.5 252.7 196.6 252.7 196.7 252.8 196.9 252.9 197.0 252.9 197.2 253.0 197.2 253.0 197.0 253.1 196.8 253.2 196.7 253.2 196.5 253.3 196.4 253.3 196.3 253.4 196.2 253.5 196.1 253.5 196.1 253.6 196.0 253.6 196.0 253.7 196.1 253.8 196.1 253.8 196.2 253.9 196.2 253.9 196.4 254.0 196.5 254.0 196.7 254.1 196.8 254.2 197.1 254.2 197.3 254.3 197.3 254.3 197.0 254.4 196.8 254.5 196.6 254.5 196.4 254.6 196.3 254.6 196.1 254.7 196.0 254.8 195.9 254.8 195.8 254.9 195.8 254.9 195.8 255.0 195.8 255.1 195.8 255.1 195.9 255.2 196.0 255.2 196.1 255.3 196.3 255.3 196.4 255.4 196.6 255.5 196.9 255.5 197.2 255.6 197.5 255.6 197.3 255.7 197.0 255.8 196.8 255.8 196.5 255.9 196.3 255.9 196.2 256.0 196.0 256.1 195.9 256.1 195.7 256.2 195.7 256.2 195.6 256.3 195.6 256.3 195.6 256.4 195.6 256.5 195.7 256.5 195.8 256.6 195.9 256.6 196.1 256.7 196.3 256.8 196.5 256.8 196.7 256.9 197.0 256.9 197.4 257.0 197.8 257.1 197.4 257.1 197.1 257.2 196.8 257.2 196.5 257.3 196.3 257.4 196.1 257.4 195.9 257.5 195.7 257.5 195.6 257.6 195.5 257.6 195.4 257.7 195.4 257.8 195.4 257.8 195.4 257.9 195.5 257.9 195.6 258.0 195.7 258.1 195.9 258.1 196.1 258.2 196.4 258.2 196.6 258.3 196.9 258.4 197.3 258.4 197.7 258.5 198.0 258.5 197.6 258.6 197.2 258.6 196.9 258.7 196.6 258.8 196.3 258.8 196.0 258.9 195.8 258.9 195.6 259.0 195.5 259.1 195.4 259.1 195.3 259.2 195.2 259.2 195.2 259.3 195.3 259.4 195.3 259.4 195.4 259.5 195.6 259.5 195.7 259.6 196.0 259.7 196.2 259.7 196.5 259.8 196.8 259.8 197.2 259.9 197.6 259.9 198.1 260.0 198.3 260.1 197.8 260.1 197.3 260.2 197.0 260.2 196.6 260.3 196.3 260.4 196.0 260.4 195.8 260.5 195.6 260.5 195.4 260.6 195.2 260.7 195.1 260.7 195.1 260.8 195.1 260.8 195.1 260.9 195.1 260.9 195.2 261.0 195.4 261.1 195.5 261.1 195.8 261.2 196.0 261.2 196.3 261.3 196.7 261.4 197.0 261.4 197.5 261.5 197.9 261.5 198.5 261.6 198.5 261.7 198.0 261.7 197.5 261.8 197.1 261.8 196.7 261.9 196.3 262.0 196.0 262.0 195.7 262.1 195.5 262.1 195.3 262.2 195.1 262.2 195.0 262.3 194.9 262.4 194.9 262.4 194.9 262.5 194.9 262.5 195.0 262.6 195.1 262.7 195.3 262.7 195.5 262.8 195.7 262.8 196.0 262.9 196.4 263.0 196.7 263.0 197.2 263.1 197.6 263.1 198.1 263.2 198.7 263.2 198.8 263.3 198.2 263.4 197.7 263.4 197.2 263.5 196.8 263.5 196.4 263.6 196.1 263.7 195.8 263.7 195.5 263.8 195.2 263.8 195.0 263.9 194.9 264.0 194.8 264.0 194.7 264.1 194.7 264.1 194.7 264.2 194.7 264.3 194.8 264.3 195.0 264.4 195.2 264.4 195.4 264.5 195.7 264.5 196.0 264.6 196.3 264.7 196.7 264.7 197.1 264.8 197.6 264.8 198.2 264.9 198.8 265.0 199.4 265.0 198.6 265.1 198.1 265.1 197.5 265.2 197.1 265.3 196.6 265.3 196.2 265.4 195.9 265.4 195.6 265.5 195.3 265.6 195.0 265.6 194.8 265.7 194.7 265.7 194.6 265.8 194.5 265.8 194.5 265.9 194.5 266.0 194.5 266.0 194.6 266.1 194.8 266.1 195.0 266.2 195.2 266.3 195.5 266.3 195.8 266.4 196.1 266.4 196.5 266.5 197.0 266.6 197.5 266.6 198.0 266.7 198.6 266.7 199.3 266.8 199.4 266.8 198.7 266.9 198.1 267.0 197.5 267.0 197.0 267.1 196.6 267.1 196.2 267.2 195.8 267.3 195.5 267.3 195.2 267.4 194.9 267.4 194.7 267.5 194.5 267.6 194.4 267.6 194.3 267.7 194.2 267.7 194.2 267.8 194.3 267.9 194.4 267.9 194.5 268.0 194.7 268.0 194.9 268.1 195.1 268.1 195.5 268.2 195.8 268.3 196.2 268.3 196.6 268.4 197.1 268.4 197.6 268.5 198.1 268.6 198.8 268.6 199.5 268.7 199.7 268.7 199.0 268.8 198.3 268.9 197.7 268.9 197.2 269.0 196.7 269.0 196.3 269.1 195.9 269.1 195.5 269.2 195.2 269.3 194.9 269.3 194.6 269.4 194.4 269.4 194.3 269.5 194.1 269.6 194.0 269.6 194.0 269.7 194.0 269.7 194.1 269.8 194.1 269.9 194.3 269.9 194.5 270.0 194.7 270.0 194.9 270.1 195.3 270.2 195.6 270.2 196.0 270.3 196.4 270.3 196.9 270.4 197.4 270.4 198.0 270.5 198.6 270.6 199.3 270.6 200.1 270.7 199.7 270.7 198.9 270.8 198.3 270.9 197.7 270.9 197.2 271.0 196.7 271.0 196.2 271.1 195.8 271.2 195.4 271.2 195.0 271.3 194.7 271.3 194.5 271.4 194.2 271.4 194.0 271.5 193.9 271.6 193.8 271.6 193.7 271.7 193.7 271.7 193.7 271.8 193.8 271.9 193.9 271.9 194.1 272.0 194.3 272.0 194.5 272.1 194.8 272.2 195.2 272.2 195.5 272.3 196.0 272.3 196.4 272.4 196.9 272.5 197.5 272.5 198.0 272.6 198.7 272.6 199.4 272.7 200.2 272.7 200.3 272.8 199.4 272.9 198.7 272.9 198.1 273.0 197.5 273.0 196.9 273.1 196.4 273.2 196.0 273.2 195.5 273.3 195.1 273.3 194.8 273.4 194.4 273.5 194.2 273.5 193.9 273.6 193.7 273.6 193.6 273.7 193.5 273.7 193.4 273.8 193.4 273.9 193.4 273.9 193.5 274.0 193.6 274.0 193.7 274.1 193.9 274.2 194.2 274.2 194.5 274.3 194.8 274.3 195.2 274.4 195.6 274.5 196.0 274.5 196.5 274.6 197.1 274.6 197.6 274.7 198.3 274.8 199.0 274.8 199.7 274.9 200.6 274.9 200.6 275.0 199.8 275.0 199.0 275.1 198.3 275.2 197.7 275.2 197.1 275.3 196.6 275.3 196.0 275.4 195.6 275.5 195.1 275.5 194.7 275.6 194.4 275.6 194.1 275.7 193.8 275.8 193.6 275.8 193.4 275.9 193.2 275.9 193.1 276.0 193.0 276.1 193.0 276.1 193.1 276.2 193.1 276.2 193.2 276.3 193.4 276.3 193.6 276.4 193.8 276.5 194.1 276.5 194.4 276.6 194.8 276.6 195.2 276.7 195.7 276.8 196.2 276.8 196.7 276.9 197.3 276.9 197.9 277.0 198.5 277.1 199.3 277.1 200.1 277.2 201.0 277.2 200.9 277.3 200.0 277.3 199.2 277.4 198.5 277.5 197.8 277.5 197.2 277.6 196.6 277.6 196.1 277.7 195.6 277.8 195.1 277.8 194.7 277.9 194.3 277.9 194.0 278.0 193.7 278.1 193.4 278.1 193.2 278.2 193.0 278.2 192.8 278.3 192.7 278.4 192.7 278.4 192.7 278.5 192.7 278.5 192.8 278.6 192.9 278.6 193.0 278.7 193.2 278.8 193.5 278.8 193.7 278.9 194.1 278.9 194.4 279.0 194.8 279.1 195.3 279.1 195.8 279.2 196.3 279.2 196.8 279.3 197.4 279.4 198.1 279.4 198.8 279.5 199.5 279.5 200.4 279.6 201.3 279.6 201.2 279.7 200.3 279.8 199.5 279.8 198.7 279.9 198.0 279.9 197.4 280.0 196.8 280.1 196.2 280.1 195.7 280.2 195.2 280.2 194.7 280.3 194.3 280.4 193.9 280.4 193.6 280.5 193.3 280.5 193.0 280.6 192.8 280.7 192.6 280.7 192.5 280.8 192.4 280.8 192.3 280.9 192.3 280.9 192.3 281.0 192.4 281.1 192.5 281.1 192.6 281.2 192.8 281.2 193.0 281.3 193.3 281.4 193.6 281.4 194.0 281.5 194.3 281.5 194.8 281.6 195.2 281.7 195.7 281.7 196.3 281.8 196.9 281.8 197.5 281.9 198.1 281.9 198.8 282.0 199.6 282.1 200.4 282.1 201.4 282.2 201.7 282.2 200.7 282.3 199.9 282.4 199.1 282.4 198.4 282.5 197.7 282.5 197.0 282.6 196.4 282.7 195.9 282.7 195.4 282.8 194.9 282.8 194.4 282.9 194.0 283.0 193.6 283.0 193.3 283.1 192.9 283.1 192.7 283.2 192.4 283.2 192.2 283.3 192.1 283.4 192.0 283.4 191.9 283.5 191.9 283.5 191.9 283.6 191.9 283.7 192.0 283.7 192.1 283.8 192.3 283.8 192.5 283.9 192.7 284.0 193.0 284.0 193.3 284.1 193.7 284.1 194.1 284.2 194.5 284.2 195.0 284.3 195.5 284.4 196.0 284.4 196.6 284.5 197.2 284.5 197.9 284.6 198.6 284.7 199.3 284.7 200.1 284.8 201.0 284.8 202.1 284.9 201.6 285.0 200.6 285.0 199.8 285.1 199.0 285.1 198.3 285.2 197.6 285.3 196.9 285.3 196.3 285.4 195.7 285.4 195.2 285.5 194.7 285.5 194.2 285.6 193.8 285.7 193.4 285.7 193.0 285.8 192.7 285.8 192.4 285.9 192.1 286.0 191.9 286.0 191.7 286.1 191.6 286.1 191.5 286.2 191.4 286.3 191.4 286.3 191.4 286.4 191.4 286.4 191.5 286.5 191.6 286.6 191.8 286.6 192.0 286.7 192.2 286.7 192.5 286.8 192.8 286.8 193.2 286.9 193.5 287.0 194.0 287.0 194.4 287.1 194.9 287.1 195.4 287.2 196.0 287.3 196.6 287.3 197.2 287.4 197.9 287.4 198.6 287.5 199.4 287.6 200.2 287.6 201.1 287.7 202.1 287.7 202.1 287.8 201.1 287.8 200.2 287.9 199.4 288.0 198.6 288.0 197.9 288.1 197.2 288.1 196.6 288.2 196.0 288.3 195.4 288.3 194.8 288.4 194.3 288.4 193.9 288.5 193.4 288.6 193.0 288.6 192.6 288.7 192.3 288.7 192.0 288.8 191.7 288.9 191.5 288.9 191.3 289.0 191.1 289.0 191.0 289.1 190.9 289.1 190.8 289.2 190.8 289.3 190.8 289.3 190.9 289.4 191.0 289.4 191.1 289.5 191.3 289.6 191.5 289.6 191.7 289.7 192.0 289.7 192.3 289.8 192.6 289.9 193.0 289.9 193.4 290.0 193.9 290.0 194.3 290.1 194.9 290.1 195.4 290.2 196.0 290.3 196.6 290.3 197.3 290.4 197.9 290.4 198.7 290.5 199.5 290.6 200.3 290.6 201.2 290.7 202.3 290.7 202.4 290.8 201.3 290.9 200.4 290.9 199.6 291.0 198.8 291.0 198.0 291.1 197.3 291.2 196.6 291.2 196.0 291.3 195.4 291.3 194.8 291.4 194.3 291.4 193.8 291.5 193.3 291.6 192.9 291.6 192.4 291.7 192.1 291.7 191.7 291.8 191.4 291.9 191.1 291.9 190.9 292.0 190.6 292.0 190.5 292.1 190.3 292.2 190.2 292.2 190.1 292.3 190.1 292.3 190.1 292.4 190.1 292.4 190.2 292.5 190.3 292.6 190.4 292.6 190.6 292.7 190.8 292.7 191.0 292.8 191.3 292.9 191.6 292.9 191.9 293.0 192.3 293.0 192.7 293.1 193.1 293.2 193.6 293.2 194.1 293.3 194.6 293.3 195.2 293.4 195.8 293.5 196.4 293.5 197.1 293.6 197.8 293.6 198.5 293.7 199.3 293.7 200.2 293.8 201.1 293.9 202.1 293.9 202.7 294.0 201.6 294.0 200.6 294.1 199.7 294.2 198.9 294.2 198.1 294.3 197.4 294.3 196.7 294.4 196.0 294.5 195.4 294.5 194.8 294.6 194.2 294.6 193.7 294.7 193.2 294.7 192.7 294.8 192.2 294.9 191.8 294.9 191.4 295.0 191.1 295.0 190.7 295.1 190.4 295.2 190.2 295.2 189.9 295.3 189.7 295.3 189.6 295.4 189.4 295.5 189.3 295.5 189.3 295.6 189.2 295.6 189.2 295.7 189.3 295.8 189.3 295.8 189.4 295.9 189.6 295.9 189.7 296.0 189.9 296.0 190.2 296.1 190.4 296.2 190.7 296.2 191.0 296.3 191.4 296.3 191.8 296.4 192.2 296.5 192.7 296.5 193.1 296.6 193.6 296.6 194.2 296.7 194.8 296.8 195.4 296.8 196.0 296.9 196.6 296.9 197.3 297.0 198.1 297.1 198.8 297.1 199.7 297.2 200.5 297.2 201.5 297.3 202.7 297.3 202.2 297.4 201.2 297.5 200.2 297.5 199.4 297.6 198.6 297.6 197.8 297.7 197.1 297.8 196.4 297.8 195.7 297.9 195.1 297.9 194.5 298.0 193.9 298.1 193.3 298.1 192.8 298.2 192.3 298.2 191.9 298.3 191.4 298.3 191.0 298.4 190.6 298.5 190.3 298.5 190.0 298.6 189.7 298.6 189.4 298.7 189.2 298.8 189.0 298.8 188.8 298.9 188.7 298.9 188.6 299.0 188.5 299.1 188.5 299.1 188.4 299.2 188.5 299.2 188.5 299.3 188.6 299.4 188.7 299.4 188.8 299.5 189.0 299.5 189.2 299.6 189.4 299.6 189.7 299.7 190.0 299.8 190.3 299.8 190.7 299.9 191.0 299.9 191.5 300.0 191.9 300.1 192.4 300.1 192.8 300.2 193.4 300.2 193.9 300.3 194.5 300.4 195.1 300.4 195.7 300.5 196.4 300.5 197.1 300.6 197.8 300.6 198.6 300.7 199.4 300.8 200.3 300.8 201.2 300.9 202.3 300.9 202.7 301.0 201.5 301.1 200.5 301.1 199.6 301.2 198.8 301.2 198.0 301.3 197.3 301.4 196.5 301.4 195.9 301.5 195.2 301.5 194.6 301.6 193.9 301.7 193.4 301.7 192.8 301.8 192.3 301.8 191.8 301.9 191.3 301.9 190.9 302.0 190.4 302.1 190.0 302.1 189.7 302.2 189.3 302.2 189.0 302.3 188.7 302.4 188.5 302.4 188.3 302.5 188.1 302.5 187.9 302.6 187.7 302.7 187.6 302.7 187.5 302.8 187.5 302.8 187.5 302.9 187.5 302.9 187.5 303.0 187.6 303.1 187.7 303.1 187.8 303.2 187.9 303.2 188.1 303.3 188.3 303.4 188.6 303.4 188.8 303.5 189.1 303.5 189.4 303.6 189.8 303.7 190.2 303.7 190.6 303.8 191.0 303.8 191.4 303.9 191.9 304.0 192.4 304.0 193.0 304.1 193.5 304.1 194.1 304.2 194.7 304.2 195.4 304.3 196.0 304.4 196.7 304.4 197.5 304.5 198.3 304.5 199.1 304.6 199.9 304.7 200.9 304.7 201.9 304.8 203.2 304.8 202.0 304.9 201.0 305.0 200.0 305.0 199.1 305.1 198.3 305.1 197.5 305.2 196.8 305.3 196.1 305.3 195.4 305.4 194.7 305.4 194.1 305.5 193.5 305.5 192.9 305.6 192.3 305.7 191.8 305.7 191.2 305.8 190.8 305.8 190.3 305.9 189.8 306.0 189.4 306.0 189.0 306.1 188.7 306.1 188.3 306.2 188.0 306.3 187.7 306.3 187.5 306.4 187.2 306.4 187.0 306.5 186.8 306.5 186.7 306.6 186.6 306.7 186.5 306.7 186.4 306.8 186.3 306.8 186.3 306.9 186.3 307.0 186.4 307.0 186.4 307.1 186.5 307.1 186.6 307.2 186.8 307.3 187.0 307.3 187.1 307.4 187.4 307.4 187.6 307.5 187.9 307.6 188.2 307.6 188.5 307.7 188.9 307.7 189.3 307.8 189.7 307.8 190.1 307.9 190.6 308.0 191.1 308.0 191.6 308.1 192.1 308.1 192.7 308.2 193.3 308.3 193.9 308.3 194.5 308.4 195.2 308.4 195.9 308.5 196.6 308.6 197.4 308.6 198.2 308.7 199.0 308.7 199.9 308.8 200.9 308.8 201.9 308.9 203.4 309.0 201.9 309.0 200.8 309.1 199.9 309.1 199.0 309.2 198.1 309.3 197.3 309.3 196.5 309.4 195.7 309.4 195.0 309.5 194.3 309.6 193.6 309.6 192.9 309.7 192.3 309.7 191.7 309.8 191.1 309.9 190.5 309.9 190.0 310.0 189.5 310.0 189.0 310.1 188.5 310.1 188.1 310.2 187.6 310.3 187.2 310.3 186.9 310.4 186.5 310.4 186.2 310.5 185.9 310.6 185.6 310.6 185.4 310.7 185.1 310.7 185.0 310.8 184.8 310.9 184.6 310.9 184.5 311.0 184.4 311.0 184.4 311.1 184.3 311.1 184.3 311.2 184.3 311.3 184.4 311.3 184.4 311.4 184.5 311.4 184.7 311.5 184.8 311.6 185.0 311.6 185.2 311.7 185.4 311.7 185.7 311.8 186.0 311.9 186.3 311.9 186.6 312.0 187.0 312.0 187.4 312.1 187.8 312.2 188.2 312.2 188.7 312.3 189.2 312.3 189.7 312.4 190.2 312.4 190.8 312.5 191.4 312.6 192.0 312.6 192.6 312.7 193.3 312.7 194.0 312.8 194.7 312.9 195.5 312.9 196.2 313.0 197.1 313.0 197.9 313.1 198.8 313.2 199.8 313.2 200.8 313.3 201.9 313.3 203.3 313.4 201.8 313.4 200.7 313.5 199.6 313.6 198.7 313.6 197.8 313.7 196.9 313.7 196.1 313.8 195.2 313.9 194.5 313.9 193.7 314.0 193.0 314.0 192.3 314.1 191.6 314.2 190.9 314.2 190.3 314.3 189.7 314.3 189.1 314.4 188.5 314.5 188.0 314.5 187.4 314.6 186.9 314.6 186.5 314.7 186.0 314.7 185.6 314.8 185.2 314.9 184.8 314.9 184.4 315.0 184.1 315.0 183.8 315.1 183.5 315.2 183.2 315.2 183.0 315.3 182.8 315.3 182.6 315.4 182.5 315.5 182.3 315.5 182.2 315.6 182.1 315.6 182.1 315.7 182.1 315.8 182.1 315.8 182.1 315.9 182.1 315.9 182.2 316.0 182.3 316.0 182.4 316.1 182.6 316.2 182.8 316.2 183.0 316.3 183.2 316.3 183.5 316.4 183.8 316.5 184.1 316.5 184.4 316.6 184.8 316.6 185.1 316.7 185.5 316.8 186.0 316.8 186.4 316.9 186.9 316.9 187.4 317.0 188.0 317.0 188.5 317.1 189.1 317.2 189.7 317.2 190.3 317.3 191.0 317.3 191.6 317.4 192.3 317.5 193.1 317.5 193.8 317.6 194.6 317.6 195.4 317.7 196.3 317.8 197.2 317.8 198.1 317.9 199.1 317.9 200.1 318.0 201.2 318.1 202.6 318.1 202.5 318.2 201.2 318.2 200.1 318.3 199.0 318.3 198.0 318.4 197.1 318.5 196.2 318.5 195.3 318.6 194.5 318.6 193.7 318.7 192.9 318.8 192.1 318.8 191.4 318.9 190.6 318.9 190.0 319.0 189.3 319.1 188.6 319.1 188.0 319.2 187.4 319.2 186.8 319.3 186.3 319.3 185.7 319.4 185.2 319.5 184.7 319.5 184.2 319.6 183.8 319.6 183.4 319.7 183.0 319.8 182.6 319.8 182.2 319.9 181.9 319.9 181.6 320.0 181.3 320.1 181.1 320.1 180.8 320.2 180.6 320.2 180.4 320.3 180.3 320.4 180.1 320.4 180.0 320.5 179.9 320.5 179.9 320.6 179.8 320.6 179.8 320.7 179.8 320.8 179.9 320.8 179.9 320.9 180.0 320.9 180.1 321.0 180.3 321.1 180.4 321.1 180.6 321.2 180.8 321.2 181.1 321.3 181.3 321.4 181.6 321.4 181.9 321.5 182.2 321.5 182.6 321.6 183.0 321.6 183.4 321.7 183.8 321.8 184.2 321.8 184.7 321.9 185.2 321.9 185.7 322.0 186.3 322.1 186.8 322.1 187.4 322.2 188.0 322.2 188.7 322.3 189.3 322.4 190.0 322.4 190.7 322.5 191.4 322.5 192.1 322.6 192.9 322.7 193.7 322.7 194.5 322.8 195.4 322.8 196.3 322.9 197.2 322.9 198.2 323.0 199.2 323.1 200.3 323.1 201.5 323.2 203.0 323.2 202.1 323.3 200.9 323.4 199.7 323.4 198.6 323.5 197.6 323.5 196.7 323.6 195.8 323.7 194.9 323.7 194.0 323.8 193.2 323.8 192.4 323.9 191.6 323.9 190.9 324.0 190.1 324.1 189.4 324.1 188.7 324.2 188.0 324.2 187.4 324.3 186.8 324.4 186.1 324.4 185.6 324.5 185.0 324.5 184.4 324.6 183.9 324.7 183.4 324.7 182.9 324.8 182.5 324.8 182.0 324.9 181.6 325.0 181.2 325.0 180.8 325.1 180.5 325.1 180.1 325.2 179.8 325.2 179.6 325.3 179.3 325.4 179.0 325.4 178.8 325.5 178.6 325.5 178.5 325.6 178.3 325.7 178.2 325.7 178.1 325.8 178.0 325.8 177.9 325.9 177.9 326.0 177.9 326.0 177.9 326.1 177.9 326.1 178.0 326.2 178.1 326.3 178.2 326.3 178.3 326.4 178.4 326.4 178.6 326.5 178.8 326.5 179.0 326.6 179.3 326.7 179.5 326.7 179.8 326.8 180.1 326.8 180.4 326.9 180.8 327.0 181.2 327.0 181.6 327.1 182.0 327.1 182.4 327.2 182.9 327.3 183.3 327.3 183.8 327.4 184.4 327.4 184.9 327.5 185.5 327.5 186.0 327.6 186.6 327.7 187.3 327.7 187.9 327.8 188.6 327.8 189.3 327.9 190.0 328.0 190.7 328.0 191.4 328.1 192.2 328.1 193.0 328.2 193.8 328.3 194.7 328.3 195.6 328.4 196.5 328.4 197.4 328.5 198.4 328.6 199.5 328.6 200.6 328.7 201.9 328.7 203.4 328.8 201.8 328.8 200.5 328.9 199.4 329.0 198.3 329.0 197.3 329.1 196.4 329.1 195.5 329.2 194.6 329.3 193.7 329.3 192.9 329.4 192.1 329.4 191.3 329.5 190.5 329.6 189.8 329.6 189.1 329.7 188.3 329.7 187.7 329.8 187.0 329.8 186.4 329.9 185.7 330.0 185.1 330.0 184.5 330.1 184.0 330.1 183.4 330.2 182.9 330.3 182.4 330.3 181.9 330.4 181.4 330.4 180.9 330.5 180.5 330.6 180.1 330.6 179.7 330.7 179.3 330.7 179.0 330.8 178.6 330.9 178.3 330.9 178.0 331.0 177.8 331.0 177.5 331.1 177.3 331.1 177.1 331.2 176.9 331.3 176.7 331.3 176.6 331.4 176.4 331.4 176.3 331.5 176.2 331.6 176.2 331.6 176.1 331.7 176.1 331.7 176.1 331.8 176.1 331.9 176.2 331.9 176.2 332.0 176.3 332.0 176.4 332.1 176.5 332.1 176.7 332.2 176.8 332.3 177.0 332.3 177.2 332.4 177.5 332.4 177.7 332.5 178.0 332.6 178.3 332.6 178.6 332.7 178.9 332.7 179.2 332.8 179.6 332.9 180.0 332.9 180.4 333.0 180.8" fill="none" stroke="#0f86d0" stroke-width="1.45" stroke-linejoin="round"/>
</g>
<line x1="185.60" y1="11.00" x2="185.60" y2="210.00" stroke="#000" stroke-width="1.3" stroke-dasharray="1.4 1.44"/>
<line x1="179.60" y1="21.00" x2="179.60" y2="37.40" stroke="#0f86d0" stroke-width="1.2"/>
<line x1="191.30" y1="21.00" x2="191.30" y2="37.40" stroke="#0f86d0" stroke-width="1.2"/>
<rect x="38.25" y="2.50" width="294.75" height="208.10" fill="none" stroke="#222" stroke-width="1.4"/>
<line x1="37.55" y1="2.5" x2="333.70" y2="2.5" stroke="#000" stroke-width="1"/>
<line x1="67.70" y1="2.50" x2="67.70" y2="11.20" stroke="#000" stroke-width="1.3"/>
<line x1="67.70" y1="210.60" x2="67.70" y2="202.10" stroke="#000" stroke-width="1.3"/>
<text x="67.90" y="225.9" font-size="14" text-anchor="middle" fill="#000">-2</text>
<line x1="126.65" y1="2.50" x2="126.65" y2="11.20" stroke="#000" stroke-width="1.3"/>
<line x1="126.65" y1="210.60" x2="126.65" y2="202.10" stroke="#000" stroke-width="1.3"/>
<text x="126.85" y="225.9" font-size="14" text-anchor="middle" fill="#000">-1</text>
<line x1="185.60" y1="2.50" x2="185.60" y2="11.20" stroke="#000" stroke-width="1.3"/>
<line x1="185.60" y1="210.60" x2="185.60" y2="202.10" stroke="#000" stroke-width="1.3"/>
<text x="185.60" y="225.9" font-size="14" text-anchor="middle" fill="#000">0</text>
<line x1="244.55" y1="2.50" x2="244.55" y2="11.20" stroke="#000" stroke-width="1.3"/>
<line x1="244.55" y1="210.60" x2="244.55" y2="202.10" stroke="#000" stroke-width="1.3"/>
<text x="244.55" y="225.9" font-size="14" text-anchor="middle" fill="#000">1</text>
<line x1="303.50" y1="2.50" x2="303.50" y2="11.20" stroke="#000" stroke-width="1.3"/>
<line x1="303.50" y1="210.60" x2="303.50" y2="202.10" stroke="#000" stroke-width="1.3"/>
<text x="303.50" y="225.9" font-size="14" text-anchor="middle" fill="#000">2</text>
<line x1="38.25" y1="171.92" x2="47.05" y2="171.92" stroke="#000" stroke-width="1.3"/>
<line x1="333.00" y1="171.92" x2="324.00" y2="171.92" stroke="#000" stroke-width="1.3"/>
<line x1="38.25" y1="133.40" x2="47.05" y2="133.40" stroke="#000" stroke-width="1.3"/>
<line x1="333.00" y1="133.40" x2="324.00" y2="133.40" stroke="#000" stroke-width="1.3"/>
<line x1="38.25" y1="94.87" x2="47.05" y2="94.87" stroke="#000" stroke-width="1.3"/>
<line x1="333.00" y1="94.87" x2="324.00" y2="94.87" stroke="#000" stroke-width="1.3"/>
<line x1="38.25" y1="56.35" x2="47.05" y2="56.35" stroke="#000" stroke-width="1.3"/>
<line x1="333.00" y1="56.35" x2="324.00" y2="56.35" stroke="#000" stroke-width="1.3"/>
<line x1="38.25" y1="17.82" x2="47.05" y2="17.82" stroke="#000" stroke-width="1.3"/>
<line x1="333.00" y1="17.82" x2="324.00" y2="17.82" stroke="#000" stroke-width="1.3"/>
<text x="36.2" y="215.55" font-size="14" text-anchor="end" fill="#000">0</text>
<text x="36.2" y="177.02" font-size="14" text-anchor="end" fill="#000">5</text>
<text x="36.2" y="138.50" font-size="14" text-anchor="end" fill="#000">10</text>
<text x="36.2" y="99.97" font-size="14" text-anchor="end" fill="#000">15</text>
<text x="36.2" y="61.45" font-size="14" text-anchor="end" fill="#000">20</text>
<text x="36.2" y="22.92" font-size="14" text-anchor="end" fill="#000">25</text>
<rect x="37.7" y="2" width="12.4" height="18.6" fill="#000"/>
<text x="44" y="15.4" font-size="11" text-anchor="middle" fill="#fff" style="font-family:'Liberation Sans',sans-serif">a</text>
<text x="71.0" y="27.7" font-size="13.9" fill="#0f9850">Mirlin et al.</text>
<text x="71.0" y="42.6" font-size="13.9" fill="#0f9850">(2001)</text>
<text x="70.0" y="115.1" font-size="13.8" fill="#d7141e">Baskin et al.</text>
<text x="70.0" y="130.0" font-size="13.8" fill="#d7141e">(1978)</text>
<text x="99.4" y="170.6" font-size="14" fill="#0f86d0">Experiment</text>
<text x="208.6" y="170.6" font-size="14" fill="#0f86d0"><tspan font-style="italic">T</tspan> = 0.25 K</text>
<text x="197" y="20.8" font-size="14" fill="#000"><tspan font-style="italic">μB</tspan> = 1</text>
<path d="M127.40 181.30 L127.40 190.20 M124.60 186.80 Q126.80 187.80 127.40 190.20 Q128.00 187.80 130.20 186.80" fill="none" stroke="#0f86d0" stroke-width="0.9"/>
<path d="M244.50 181.30 L244.50 190.20 M241.70 186.80 Q243.90 187.80 244.50 190.20 Q245.10 187.80 247.30 186.80" fill="none" stroke="#0f86d0" stroke-width="0.9"/>
<text x="186" y="244" font-size="14" text-anchor="middle" fill="#000"><tspan font-style="italic">B</tspan> (kG)</text>
<text transform="translate(10.9,107) rotate(-90)" font-size="14" text-anchor="middle" fill="#000"><tspan font-style="italic">ρ</tspan> (Ω)</text>
<g clip-path="url(#c2)">
<line x1="208.00" y1="462.18" x2="215.60" y2="454.82" stroke="#0f9850" stroke-width="1.5"/>
<line x1="224.00" y1="446.69" x2="232.00" y2="438.95" stroke="#0f9850" stroke-width="1.5"/>
<line x1="239.80" y1="431.40" x2="247.50" y2="423.94" stroke="#0f9850" stroke-width="1.5"/>
<line x1="255.40" y1="416.29" x2="262.80" y2="409.13" stroke="#0f9850" stroke-width="1.5"/>
<line x1="270.50" y1="401.68" x2="277.60" y2="394.80" stroke="#0f9850" stroke-width="1.5"/>
<line x1="285.10" y1="387.54" x2="292.60" y2="380.28" stroke="#0f9850" stroke-width="1.5"/>
<line x1="298.00" y1="375.06" x2="305.50" y2="367.80" stroke="#0f9850" stroke-width="1.5"/>
<line x1="313.10" y1="360.44" x2="324.40" y2="349.50" stroke="#0f9850" stroke-width="1.5"/>
<line x1="331.30" y1="342.82" x2="333.00" y2="341.18" stroke="#0f9850" stroke-width="1.5"/>
<line x1="38.20" y1="423.14" x2="292.00" y2="250.69" stroke="#1212cc" stroke-width="1.6"/>
</g>
<circle cx="63.0" cy="407.5" r="3.15" fill="#fff" stroke="#0c88d0" stroke-width="1.25"/>
<circle cx="97.5" cy="381.9" r="3.15" fill="#fff" stroke="#0c88d0" stroke-width="1.25"/>
<circle cx="118.0" cy="367.7" r="3.15" fill="#fff" stroke="#0c88d0" stroke-width="1.25"/>
<circle cx="132.5" cy="357.8" r="3.15" fill="#fff" stroke="#0c88d0" stroke-width="1.25"/>
<circle cx="144.4" cy="349.9" r="3.15" fill="#fff" stroke="#0c88d0" stroke-width="1.25"/>
<circle cx="154.6" cy="343.2" r="3.15" fill="#fff" stroke="#0c88d0" stroke-width="1.25"/>
<circle cx="163.1" cy="338.0" r="3.15" fill="#fff" stroke="#0c88d0" stroke-width="1.25"/>
<circle cx="170.4" cy="333.2" r="3.15" fill="#fff" stroke="#0c88d0" stroke-width="1.25"/>
<circle cx="177.0" cy="329.1" r="3.15" fill="#fff" stroke="#0c88d0" stroke-width="1.25"/>
<circle cx="182.8" cy="325.3" r="3.15" fill="#fff" stroke="#0c88d0" stroke-width="1.25"/>
<circle cx="188.1" cy="321.8" r="3.15" fill="#fff" stroke="#0c88d0" stroke-width="1.25"/>
<circle cx="192.9" cy="318.3" r="3.15" fill="#fff" stroke="#0c88d0" stroke-width="1.25"/>
<circle cx="197.4" cy="315.2" r="3.15" fill="#fff" stroke="#0c88d0" stroke-width="1.25"/>
<circle cx="201.5" cy="312.3" r="3.15" fill="#fff" stroke="#0c88d0" stroke-width="1.25"/>
<circle cx="205.4" cy="309.5" r="3.15" fill="#fff" stroke="#0c88d0" stroke-width="1.25"/>
<circle cx="209.0" cy="306.9" r="3.15" fill="#fff" stroke="#0c88d0" stroke-width="1.25"/>
<circle cx="212.4" cy="304.5" r="3.15" fill="#fff" stroke="#0c88d0" stroke-width="1.25"/>
<circle cx="215.6" cy="302.3" r="3.15" fill="#fff" stroke="#0c88d0" stroke-width="1.25"/>
<circle cx="218.6" cy="300.3" r="3.15" fill="#fff" stroke="#0c88d0" stroke-width="1.25"/>
<circle cx="221.5" cy="298.6" r="3.15" fill="#fff" stroke="#0c88d0" stroke-width="1.25"/>
<circle cx="224.2" cy="297.0" r="3.15" fill="#fff" stroke="#0c88d0" stroke-width="1.25"/>
<circle cx="226.9" cy="295.5" r="3.15" fill="#fff" stroke="#0c88d0" stroke-width="1.25"/>
<circle cx="229.4" cy="294.1" r="3.15" fill="#fff" stroke="#0c88d0" stroke-width="1.25"/>
<circle cx="231.7" cy="292.9" r="3.15" fill="#fff" stroke="#0c88d0" stroke-width="1.25"/>
<circle cx="234.0" cy="291.8" r="3.15" fill="#fff" stroke="#0c88d0" stroke-width="1.25"/>
<circle cx="236.2" cy="290.8" r="3.15" fill="#fff" stroke="#0c88d0" stroke-width="1.25"/>
<circle cx="238.4" cy="289.9" r="3.15" fill="#fff" stroke="#0c88d0" stroke-width="1.25"/>
<circle cx="240.4" cy="289.1" r="3.15" fill="#fff" stroke="#0c88d0" stroke-width="1.25"/>
<circle cx="242.4" cy="288.4" r="3.15" fill="#fff" stroke="#0c88d0" stroke-width="1.25"/>
<circle cx="244.3" cy="287.7" r="3.15" fill="#fff" stroke="#0c88d0" stroke-width="1.25"/>
<circle cx="246.1" cy="287.1" r="3.15" fill="#fff" stroke="#0c88d0" stroke-width="1.25"/>
<circle cx="247.9" cy="286.5" r="3.15" fill="#fff" stroke="#0c88d0" stroke-width="1.25"/>
<circle cx="249.7" cy="285.8" r="3.15" fill="#fff" stroke="#0c88d0" stroke-width="1.25"/>
<circle cx="251.3" cy="285.2" r="3.15" fill="#fff" stroke="#0c88d0" stroke-width="1.25"/>
<circle cx="253.0" cy="284.6" r="3.15" fill="#fff" stroke="#0c88d0" stroke-width="1.25"/>
<circle cx="254.6" cy="284.0" r="3.15" fill="#fff" stroke="#0c88d0" stroke-width="1.25"/>
<circle cx="256.1" cy="283.5" r="3.15" fill="#fff" stroke="#0c88d0" stroke-width="1.25"/>
<circle cx="257.6" cy="283.0" r="3.15" fill="#fff" stroke="#0c88d0" stroke-width="1.25"/>
<circle cx="259.1" cy="282.6" r="3.15" fill="#fff" stroke="#0c88d0" stroke-width="1.25"/>
<circle cx="260.5" cy="282.1" r="3.15" fill="#fff" stroke="#0c88d0" stroke-width="1.25"/>
<circle cx="261.9" cy="281.7" r="3.15" fill="#fff" stroke="#0c88d0" stroke-width="1.25"/>
<circle cx="263.3" cy="281.3" r="3.15" fill="#fff" stroke="#0c88d0" stroke-width="1.25"/>
<circle cx="264.6" cy="280.9" r="3.15" fill="#fff" stroke="#0c88d0" stroke-width="1.25"/>
<circle cx="265.9" cy="280.6" r="3.15" fill="#fff" stroke="#0c88d0" stroke-width="1.25"/>
<circle cx="267.2" cy="280.2" r="3.15" fill="#fff" stroke="#0c88d0" stroke-width="1.25"/>
<circle cx="268.4" cy="279.9" r="3.15" fill="#fff" stroke="#0c88d0" stroke-width="1.25"/>
<circle cx="269.6" cy="279.6" r="3.15" fill="#fff" stroke="#0c88d0" stroke-width="1.25"/>
<circle cx="270.8" cy="279.4" r="3.15" fill="#fff" stroke="#0c88d0" stroke-width="1.25"/>
<circle cx="272.0" cy="279.1" r="3.15" fill="#fff" stroke="#0c88d0" stroke-width="1.25"/>
<circle cx="273.1" cy="278.9" r="3.15" fill="#fff" stroke="#0c88d0" stroke-width="1.25"/>
<circle cx="274.2" cy="278.7" r="3.15" fill="#fff" stroke="#0c88d0" stroke-width="1.25"/>
<circle cx="275.3" cy="278.5" r="3.15" fill="#fff" stroke="#0c88d0" stroke-width="1.25"/>
<circle cx="276.4" cy="278.3" r="3.15" fill="#fff" stroke="#0c88d0" stroke-width="1.25"/>
<circle cx="277.4" cy="278.1" r="3.15" fill="#fff" stroke="#0c88d0" stroke-width="1.25"/>
<circle cx="278.5" cy="278.0" r="3.15" fill="#fff" stroke="#0c88d0" stroke-width="1.25"/>
<circle cx="279.5" cy="277.8" r="3.15" fill="#fff" stroke="#0c88d0" stroke-width="1.25"/>
<circle cx="280.5" cy="277.7" r="3.15" fill="#fff" stroke="#0c88d0" stroke-width="1.25"/>
<circle cx="281.5" cy="277.5" r="3.15" fill="#fff" stroke="#0c88d0" stroke-width="1.25"/>
<circle cx="282.4" cy="277.4" r="3.15" fill="#fff" stroke="#0c88d0" stroke-width="1.25"/>
<circle cx="283.4" cy="277.3" r="3.15" fill="#fff" stroke="#0c88d0" stroke-width="1.25"/>
<circle cx="284.3" cy="277.2" r="3.15" fill="#fff" stroke="#0c88d0" stroke-width="1.25"/>
<circle cx="285.2" cy="277.1" r="3.15" fill="#fff" stroke="#0c88d0" stroke-width="1.25"/>
<circle cx="286.2" cy="277.0" r="3.15" fill="#fff" stroke="#0c88d0" stroke-width="1.25"/>
<circle cx="287.0" cy="276.9" r="3.15" fill="#fff" stroke="#0c88d0" stroke-width="1.25"/>
<circle cx="287.9" cy="276.8" r="3.15" fill="#fff" stroke="#0c88d0" stroke-width="1.25"/>
<circle cx="288.8" cy="276.7" r="3.15" fill="#fff" stroke="#0c88d0" stroke-width="1.25"/>
<circle cx="289.6" cy="276.6" r="3.15" fill="#fff" stroke="#0c88d0" stroke-width="1.25"/>
<circle cx="290.5" cy="276.5" r="3.15" fill="#fff" stroke="#0c88d0" stroke-width="1.25"/>
<circle cx="291.3" cy="276.5" r="3.15" fill="#fff" stroke="#0c88d0" stroke-width="1.25"/>
<circle cx="292.1" cy="276.4" r="3.15" fill="#fff" stroke="#0c88d0" stroke-width="1.25"/>
<circle cx="292.9" cy="276.3" r="3.15" fill="#fff" stroke="#0c88d0" stroke-width="1.25"/>
<circle cx="293.7" cy="276.3" r="3.15" fill="#fff" stroke="#0c88d0" stroke-width="1.25"/>
<circle cx="294.5" cy="276.2" r="3.15" fill="#fff" stroke="#0c88d0" stroke-width="1.25"/>
<circle cx="295.2" cy="276.2" r="3.15" fill="#fff" stroke="#0c88d0" stroke-width="1.25"/>
<circle cx="296.0" cy="276.1" r="3.15" fill="#fff" stroke="#0c88d0" stroke-width="1.25"/>
<circle cx="296.8" cy="276.1" r="3.15" fill="#fff" stroke="#0c88d0" stroke-width="1.25"/>
<circle cx="297.5" cy="276.0" r="3.15" fill="#fff" stroke="#0c88d0" stroke-width="1.25"/>
<circle cx="298.2" cy="276.0" r="3.15" fill="#fff" stroke="#0c88d0" stroke-width="1.25"/>
<circle cx="298.9" cy="275.9" r="3.15" fill="#fff" stroke="#0c88d0" stroke-width="1.25"/>
<circle cx="299.7" cy="275.9" r="3.15" fill="#fff" stroke="#0c88d0" stroke-width="1.25"/>
<circle cx="300.4" cy="275.8" r="3.15" fill="#fff" stroke="#0c88d0" stroke-width="1.25"/>
<circle cx="301.1" cy="275.8" r="3.15" fill="#fff" stroke="#0c88d0" stroke-width="1.25"/>
<circle cx="301.7" cy="275.7" r="3.15" fill="#fff" stroke="#0c88d0" stroke-width="1.25"/>
<circle cx="302.4" cy="275.7" r="3.15" fill="#fff" stroke="#0c88d0" stroke-width="1.25"/>
<circle cx="303.1" cy="275.7" r="3.15" fill="#fff" stroke="#0c88d0" stroke-width="1.25"/>
<circle cx="303.7" cy="275.7" r="3.15" fill="#fff" stroke="#0c88d0" stroke-width="1.25"/>
<circle cx="304.4" cy="275.6" r="3.15" fill="#fff" stroke="#0c88d0" stroke-width="1.25"/>
<circle cx="305.0" cy="275.6" r="3.15" fill="#fff" stroke="#0c88d0" stroke-width="1.25"/>
<circle cx="305.7" cy="275.6" r="3.15" fill="#fff" stroke="#0c88d0" stroke-width="1.25"/>
<circle cx="306.3" cy="275.6" r="3.15" fill="#fff" stroke="#0c88d0" stroke-width="1.25"/>
<circle cx="306.9" cy="275.6" r="3.15" fill="#fff" stroke="#0c88d0" stroke-width="1.25"/>
<circle cx="307.6" cy="275.5" r="3.15" fill="#fff" stroke="#0c88d0" stroke-width="1.25"/>
<circle cx="308.2" cy="275.5" r="3.15" fill="#fff" stroke="#0c88d0" stroke-width="1.25"/>
<circle cx="308.8" cy="275.5" r="3.15" fill="#fff" stroke="#0c88d0" stroke-width="1.25"/>
<circle cx="309.4" cy="275.5" r="3.15" fill="#fff" stroke="#0c88d0" stroke-width="1.25"/>
<circle cx="310.0" cy="275.5" r="3.15" fill="#fff" stroke="#0c88d0" stroke-width="1.25"/>
<circle cx="310.6" cy="275.5" r="3.15" fill="#fff" stroke="#0c88d0" stroke-width="1.25"/>
<circle cx="311.1" cy="275.5" r="3.15" fill="#fff" stroke="#0c88d0" stroke-width="1.25"/>
<circle cx="311.7" cy="275.5" r="3.15" fill="#fff" stroke="#0c88d0" stroke-width="1.25"/>
<circle cx="312.3" cy="275.4" r="3.15" fill="#fff" stroke="#0c88d0" stroke-width="1.25"/>
<circle cx="312.8" cy="275.4" r="3.15" fill="#fff" stroke="#0c88d0" stroke-width="1.25"/>
<circle cx="313.4" cy="275.4" r="3.15" fill="#fff" stroke="#0c88d0" stroke-width="1.25"/>
<circle cx="314.0" cy="275.4" r="3.15" fill="#fff" stroke="#0c88d0" stroke-width="1.25"/>
<circle cx="314.5" cy="275.4" r="3.15" fill="#fff" stroke="#0c88d0" stroke-width="1.25"/>
<circle cx="315.0" cy="275.4" r="3.15" fill="#fff" stroke="#0c88d0" stroke-width="1.25"/>
<circle cx="315.6" cy="275.4" r="3.15" fill="#fff" stroke="#0c88d0" stroke-width="1.25"/>
<circle cx="316.1" cy="275.4" r="3.15" fill="#fff" stroke="#0c88d0" stroke-width="1.25"/>
<circle cx="316.6" cy="275.4" r="3.15" fill="#fff" stroke="#0c88d0" stroke-width="1.25"/>
<circle cx="317.2" cy="275.4" r="3.15" fill="#fff" stroke="#0c88d0" stroke-width="1.25"/>
<circle cx="317.7" cy="275.4" r="3.15" fill="#fff" stroke="#0c88d0" stroke-width="1.25"/>
<circle cx="318.2" cy="275.4" r="3.15" fill="#fff" stroke="#0c88d0" stroke-width="1.25"/>
<circle cx="318.7" cy="275.4" r="3.15" fill="#fff" stroke="#0c88d0" stroke-width="1.25"/>
<circle cx="319.2" cy="275.4" r="3.15" fill="#fff" stroke="#0c88d0" stroke-width="1.25"/>
<circle cx="319.7" cy="275.4" r="3.15" fill="#fff" stroke="#0c88d0" stroke-width="1.25"/>
<circle cx="320.2" cy="275.4" r="3.15" fill="#fff" stroke="#0c88d0" stroke-width="1.25"/>
<circle cx="320.7" cy="275.4" r="3.15" fill="#fff" stroke="#0c88d0" stroke-width="1.25"/>
<circle cx="321.2" cy="275.4" r="3.15" fill="#fff" stroke="#0c88d0" stroke-width="1.25"/>
<circle cx="321.6" cy="275.4" r="3.15" fill="#fff" stroke="#0c88d0" stroke-width="1.25"/>
<circle cx="322.1" cy="275.4" r="3.15" fill="#fff" stroke="#0c88d0" stroke-width="1.25"/>
<circle cx="322.6" cy="275.4" r="3.15" fill="#fff" stroke="#0c88d0" stroke-width="1.25"/>
<circle cx="323.1" cy="275.4" r="3.15" fill="#fff" stroke="#0c88d0" stroke-width="1.25"/>
<circle cx="323.5" cy="275.4" r="3.15" fill="#fff" stroke="#0c88d0" stroke-width="1.25"/>
<circle cx="324.0" cy="275.4" r="3.15" fill="#fff" stroke="#0c88d0" stroke-width="1.25"/>
<circle cx="324.5" cy="275.4" r="3.15" fill="#fff" stroke="#0c88d0" stroke-width="1.25"/>
<circle cx="324.9" cy="275.4" r="3.15" fill="#fff" stroke="#0c88d0" stroke-width="1.25"/>
<circle cx="325.4" cy="275.4" r="3.15" fill="#fff" stroke="#0c88d0" stroke-width="1.25"/>
<circle cx="325.8" cy="275.4" r="3.15" fill="#fff" stroke="#0c88d0" stroke-width="1.25"/>
<circle cx="326.2" cy="275.4" r="3.15" fill="#fff" stroke="#0c88d0" stroke-width="1.25"/>
<circle cx="326.7" cy="275.4" r="3.15" fill="#fff" stroke="#0c88d0" stroke-width="1.25"/>
<circle cx="327.1" cy="275.4" r="3.15" fill="#fff" stroke="#0c88d0" stroke-width="1.25"/>
<circle cx="327.6" cy="275.4" r="3.15" fill="#fff" stroke="#0c88d0" stroke-width="1.25"/>
<circle cx="328.0" cy="275.4" r="3.15" fill="#fff" stroke="#0c88d0" stroke-width="1.25"/>
<circle cx="328.4" cy="275.4" r="3.15" fill="#fff" stroke="#0c88d0" stroke-width="1.25"/>
<circle cx="328.8" cy="275.4" r="3.15" fill="#fff" stroke="#0c88d0" stroke-width="1.25"/>
<circle cx="329.3" cy="275.4" r="3.15" fill="#fff" stroke="#0c88d0" stroke-width="1.25"/>
<circle cx="329.7" cy="275.4" r="3.15" fill="#fff" stroke="#0c88d0" stroke-width="1.25"/>
<circle cx="330.1" cy="275.4" r="3.15" fill="#fff" stroke="#0c88d0" stroke-width="1.25"/>
<circle cx="330.5" cy="275.4" r="3.15" fill="#fff" stroke="#0c88d0" stroke-width="1.25"/>
<circle cx="330.9" cy="275.4" r="3.15" fill="#fff" stroke="#0c88d0" stroke-width="1.25"/>
<circle cx="331.3" cy="275.4" r="3.15" fill="#fff" stroke="#0c88d0" stroke-width="1.25"/>
<circle cx="331.7" cy="275.4" r="3.15" fill="#fff" stroke="#0c88d0" stroke-width="1.25"/>
<circle cx="332.1" cy="275.4" r="3.15" fill="#fff" stroke="#0c88d0" stroke-width="1.25"/>
<circle cx="332.5" cy="275.4" r="3.15" fill="#fff" stroke="#0c88d0" stroke-width="1.25"/>
<rect x="38.20" y="253.20" width="294.80" height="208.30" fill="none" stroke="#222" stroke-width="1.4"/>
<line x1="37.50" y1="253.2" x2="333.70" y2="253.2" stroke="#000" stroke-width="1"/>
<circle cx="332.7" cy="275.4" r="3.15" fill="#fff" stroke="#0c88d0" stroke-width="1.25"/>
<line x1="201.50" y1="261.50" x2="201.50" y2="461.00" stroke="#000" stroke-width="1.35" stroke-dasharray="1.45 1.41"/>
<line x1="42.89" y1="253.20" x2="42.89" y2="257.50" stroke="#000" stroke-width="1.3"/>
<line x1="42.89" y1="461.50" x2="42.89" y2="457.20" stroke="#000" stroke-width="1.3"/>
<text x="42.89" y="473.1" font-size="10" text-anchor="middle" fill="#000">6</text>
<line x1="51.63" y1="253.20" x2="51.63" y2="257.50" stroke="#000" stroke-width="1.3"/>
<line x1="51.63" y1="461.50" x2="51.63" y2="457.20" stroke="#000" stroke-width="1.3"/>
<text x="51.63" y="473.1" font-size="10" text-anchor="middle" fill="#000">7</text>
<line x1="59.20" y1="253.20" x2="59.20" y2="257.50" stroke="#000" stroke-width="1.3"/>
<line x1="59.20" y1="461.50" x2="59.20" y2="457.20" stroke="#000" stroke-width="1.3"/>
<line x1="65.88" y1="253.20" x2="65.88" y2="257.50" stroke="#000" stroke-width="1.3"/>
<line x1="65.88" y1="461.50" x2="65.88" y2="457.20" stroke="#000" stroke-width="1.3"/>
<line x1="71.85" y1="253.20" x2="71.85" y2="261.70" stroke="#000" stroke-width="1.3"/>
<line x1="71.85" y1="461.50" x2="71.85" y2="453.00" stroke="#000" stroke-width="1.3"/>
<line x1="111.15" y1="253.20" x2="111.15" y2="257.50" stroke="#000" stroke-width="1.3"/>
<line x1="111.15" y1="461.50" x2="111.15" y2="457.20" stroke="#000" stroke-width="1.3"/>
<text x="111.15" y="473.1" font-size="10" text-anchor="middle" fill="#000">2</text>
<line x1="134.14" y1="253.20" x2="134.14" y2="257.50" stroke="#000" stroke-width="1.3"/>
<line x1="134.14" y1="461.50" x2="134.14" y2="457.20" stroke="#000" stroke-width="1.3"/>
<text x="134.14" y="473.1" font-size="10" text-anchor="middle" fill="#000">3</text>
<line x1="150.45" y1="253.20" x2="150.45" y2="257.50" stroke="#000" stroke-width="1.3"/>
<line x1="150.45" y1="461.50" x2="150.45" y2="457.20" stroke="#000" stroke-width="1.3"/>
<text x="150.45" y="473.1" font-size="10" text-anchor="middle" fill="#000">4</text>
<line x1="163.10" y1="253.20" x2="163.10" y2="257.50" stroke="#000" stroke-width="1.3"/>
<line x1="163.10" y1="461.50" x2="163.10" y2="457.20" stroke="#000" stroke-width="1.3"/>
<text x="163.10" y="473.1" font-size="10" text-anchor="middle" fill="#000">5</text>
<line x1="173.44" y1="253.20" x2="173.44" y2="257.50" stroke="#000" stroke-width="1.3"/>
<line x1="173.44" y1="461.50" x2="173.44" y2="457.20" stroke="#000" stroke-width="1.3"/>
<text x="173.44" y="473.1" font-size="10" text-anchor="middle" fill="#000">6</text>
<line x1="182.18" y1="253.20" x2="182.18" y2="257.50" stroke="#000" stroke-width="1.3"/>
<line x1="182.18" y1="461.50" x2="182.18" y2="457.20" stroke="#000" stroke-width="1.3"/>
<text x="182.18" y="473.1" font-size="10" text-anchor="middle" fill="#000">7</text>
<line x1="189.75" y1="253.20" x2="189.75" y2="257.50" stroke="#000" stroke-width="1.3"/>
<line x1="189.75" y1="461.50" x2="189.75" y2="457.20" stroke="#000" stroke-width="1.3"/>
<line x1="196.43" y1="253.20" x2="196.43" y2="257.50" stroke="#000" stroke-width="1.3"/>
<line x1="196.43" y1="461.50" x2="196.43" y2="457.20" stroke="#000" stroke-width="1.3"/>
<line x1="202.40" y1="253.20" x2="202.40" y2="261.70" stroke="#000" stroke-width="1.3"/>
<line x1="202.40" y1="461.50" x2="202.40" y2="453.00" stroke="#000" stroke-width="1.3"/>
<line x1="241.70" y1="253.20" x2="241.70" y2="257.50" stroke="#000" stroke-width="1.3"/>
<line x1="241.70" y1="461.50" x2="241.70" y2="457.20" stroke="#000" stroke-width="1.3"/>
<text x="241.70" y="473.1" font-size="10" text-anchor="middle" fill="#000">2</text>
<line x1="264.69" y1="253.20" x2="264.69" y2="257.50" stroke="#000" stroke-width="1.3"/>
<line x1="264.69" y1="461.50" x2="264.69" y2="457.20" stroke="#000" stroke-width="1.3"/>
<text x="264.69" y="473.1" font-size="10" text-anchor="middle" fill="#000">3</text>
<line x1="281.00" y1="253.20" x2="281.00" y2="257.50" stroke="#000" stroke-width="1.3"/>
<line x1="281.00" y1="461.50" x2="281.00" y2="457.20" stroke="#000" stroke-width="1.3"/>
<text x="281.00" y="473.1" font-size="10" text-anchor="middle" fill="#000">4</text>
<line x1="293.65" y1="253.20" x2="293.65" y2="257.50" stroke="#000" stroke-width="1.3"/>
<line x1="293.65" y1="461.50" x2="293.65" y2="457.20" stroke="#000" stroke-width="1.3"/>
<text x="293.65" y="473.1" font-size="10" text-anchor="middle" fill="#000">5</text>
<line x1="303.99" y1="253.20" x2="303.99" y2="257.50" stroke="#000" stroke-width="1.3"/>
<line x1="303.99" y1="461.50" x2="303.99" y2="457.20" stroke="#000" stroke-width="1.3"/>
<text x="303.99" y="473.1" font-size="10" text-anchor="middle" fill="#000">6</text>
<line x1="312.73" y1="253.20" x2="312.73" y2="257.50" stroke="#000" stroke-width="1.3"/>
<line x1="312.73" y1="461.50" x2="312.73" y2="457.20" stroke="#000" stroke-width="1.3"/>
<text x="312.73" y="473.1" font-size="10" text-anchor="middle" fill="#000">7</text>
<line x1="320.30" y1="253.20" x2="320.30" y2="257.50" stroke="#000" stroke-width="1.3"/>
<line x1="320.30" y1="461.50" x2="320.30" y2="457.20" stroke="#000" stroke-width="1.3"/>
<line x1="326.98" y1="253.20" x2="326.98" y2="257.50" stroke="#000" stroke-width="1.3"/>
<line x1="326.98" y1="461.50" x2="326.98" y2="457.20" stroke="#000" stroke-width="1.3"/>
<text x="71.85" y="482.5" font-size="14" text-anchor="middle" fill="#000">0.01</text>
<text x="202.40" y="482.5" font-size="14" text-anchor="middle" fill="#000">0.1</text>
<text x="332.75" y="482.5" font-size="14" text-anchor="middle" fill="#000">1</text>
<line x1="38.20" y1="272.20" x2="46.80" y2="272.20" stroke="#000" stroke-width="1.3"/>
<line x1="38.20" y1="335.40" x2="46.80" y2="335.40" stroke="#000" stroke-width="1.3"/>
<line x1="333.00" y1="335.40" x2="324.00" y2="335.40" stroke="#000" stroke-width="1.3"/>
<line x1="38.20" y1="398.60" x2="46.80" y2="398.60" stroke="#000" stroke-width="1.3"/>
<line x1="333.00" y1="398.60" x2="324.00" y2="398.60" stroke="#000" stroke-width="1.3"/>
<text x="15.4" y="279.40" font-size="14" fill="#000">10</text>
<text x="33.2" y="270.60" font-size="9.5" text-anchor="end" fill="#000">0</text>
<text x="12.0" y="342.60" font-size="14" fill="#000">10</text>
<text x="33.2" y="333.80" font-size="9.5" text-anchor="end" fill="#000">-1</text>
<text x="12.0" y="405.80" font-size="14" fill="#000">10</text>
<text x="33.2" y="397.00" font-size="9.5" text-anchor="end" fill="#000">-2</text>
<text x="12.0" y="469.00" font-size="14" fill="#000">10</text>
<text x="33.2" y="460.20" font-size="9.5" text-anchor="end" fill="#000">-3</text>
<rect x="37.8" y="252.7" width="11.9" height="19.1" fill="#000"/>
<text x="44" y="267" font-size="11" text-anchor="middle" fill="#fff" style="font-family:'Liberation Sans',sans-serif">b</text>
<text x="92.8" y="357.6" font-size="14" fill="#1a1aa8">~</text>
<text x="103.6" y="355.7" font-size="14" font-style="italic" fill="#1a1aa8">B</text>
<text x="114.6" y="347.7" font-size="9.5" fill="#1a1aa8">1.4</text>
<text x="161.3" y="274.7" font-size="14" fill="#000"><tspan font-style="italic">μB</tspan> = 1</text>
<text x="262.8" y="430.4" font-size="13.9" fill="#0f9850">Mirlin et al.</text>
<text x="262.8" y="445.2" font-size="13.9" fill="#0f9850">(2001)</text>
<text x="186" y="497.1" font-size="14" text-anchor="middle" fill="#000"><tspan font-style="italic">B</tspan> (kG)</text>
<text transform="translate(11.2,359.1) rotate(-90)" font-size="14" text-anchor="middle" fill="#000">- <tspan font-style="italic" font-size="15.5" letter-spacing="0.2">δρ/ρ</tspan></text>
</g></svg></body></html>
